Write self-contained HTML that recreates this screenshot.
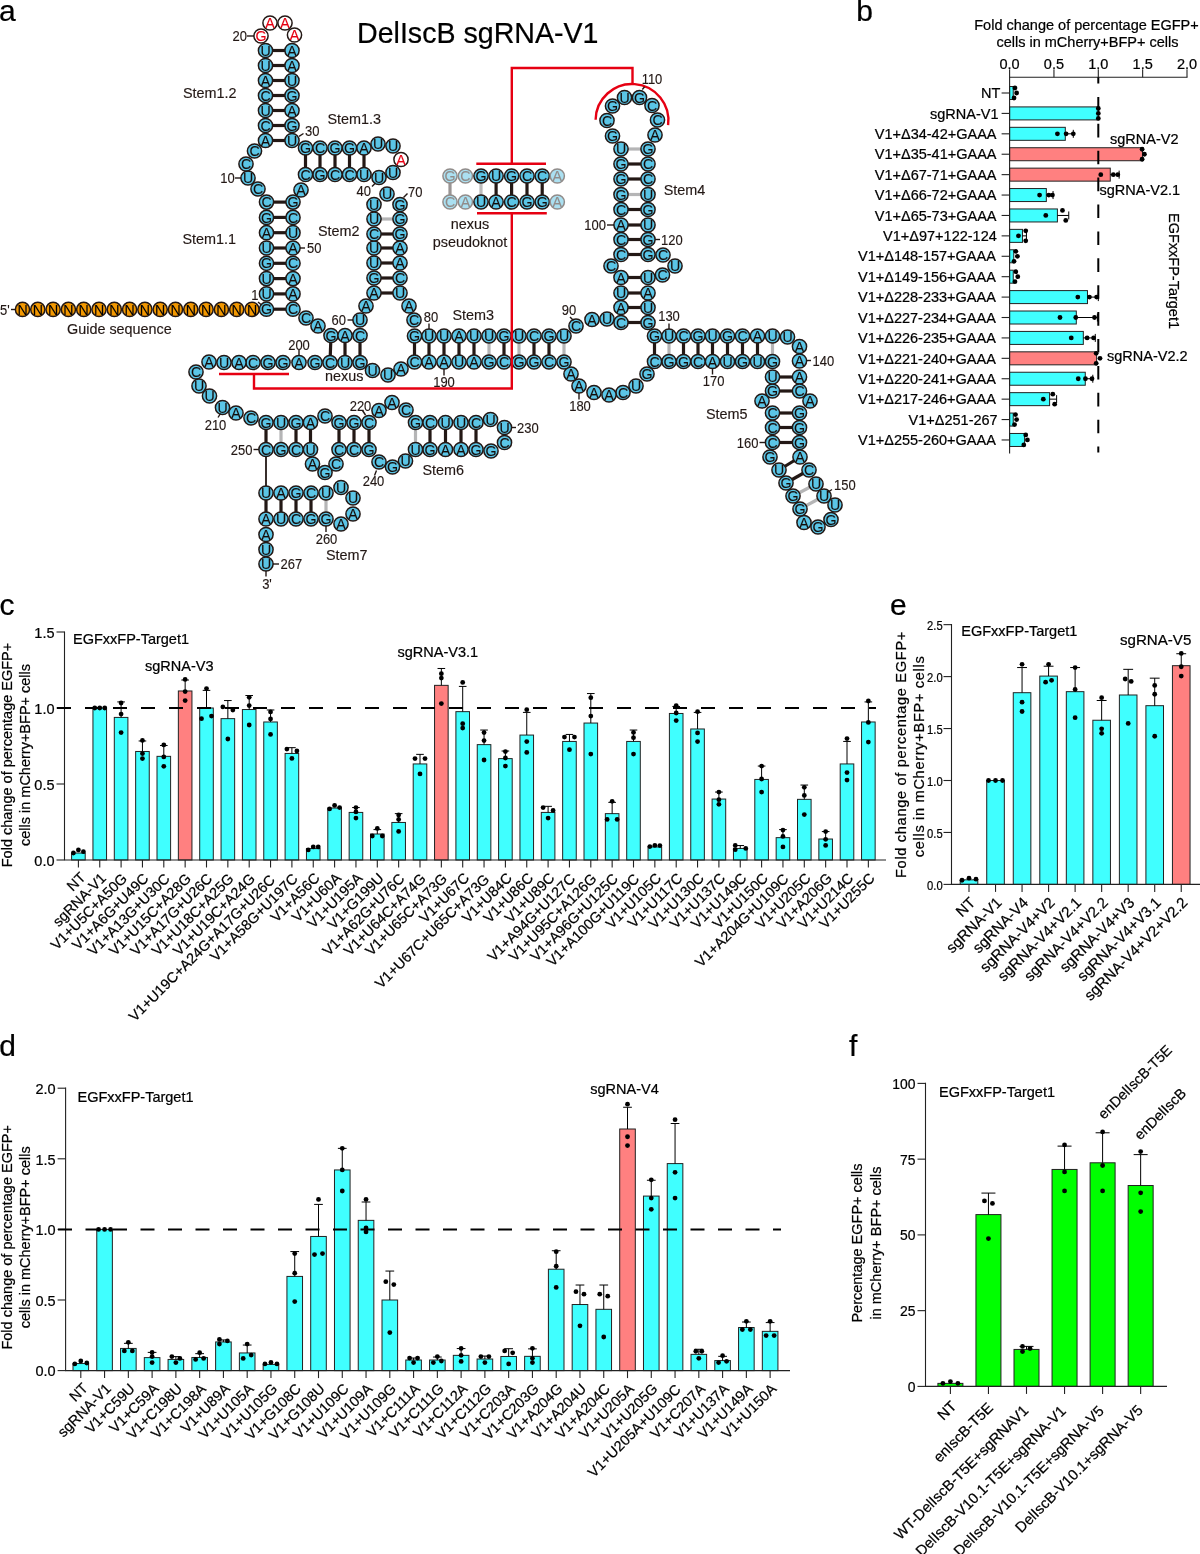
<!DOCTYPE html>
<html lang="en"><head><meta charset="utf-8"><title>DelIscB sgRNA engineering</title>
<style>html,body{margin:0;padding:0;background:#fff}svg{display:block}text{font-family:"Liberation Sans",Arial,Helvetica,sans-serif;stroke:#000;stroke-width:.22px}.nt text{stroke:#231815;stroke-width:.12px}.nt text.rd{stroke:#e60012}.nt text.fd{stroke:#918c8a}.lb text{stroke:#231815;stroke-width:.15px}</style>
</head><body>
<svg width="1200" height="1554" viewBox="0 0 1200 1554">
<rect width="1200" height="1554" fill="#fff"/>
<g id="panel-a">
<text x="-1" y="21" font-size="30" text-anchor="start" fill="#000">a</text>
<text x="357" y="43" font-size="28.6" text-anchor="start" fill="#000">DelIscB sgRNA-V1</text>
<line x1="266.5" y1="309.2" x2="293" y2="309.2" stroke="#231815" stroke-width="3.2"/>
<line x1="266.5" y1="293.9" x2="293" y2="293.9" stroke="#231815" stroke-width="3.2"/>
<line x1="266.5" y1="278.6" x2="293" y2="278.6" stroke="#231815" stroke-width="3.2"/>
<line x1="266.5" y1="263.3" x2="293" y2="263.3" stroke="#231815" stroke-width="3.2"/>
<line x1="266.5" y1="248" x2="293" y2="248" stroke="#231815" stroke-width="3.2"/>
<line x1="266.5" y1="232.7" x2="293" y2="232.7" stroke="#231815" stroke-width="3.2"/>
<line x1="266.5" y1="217.4" x2="293" y2="217.4" stroke="#231815" stroke-width="3.2"/>
<line x1="266.5" y1="202.1" x2="293" y2="202.1" stroke="#231815" stroke-width="3.2"/>
<line x1="265.5" y1="140.5" x2="292" y2="140.5" stroke="#231815" stroke-width="3.2"/>
<line x1="265.5" y1="125.5" x2="292" y2="125.5" stroke="#231815" stroke-width="3.2"/>
<line x1="265.5" y1="110.5" x2="292" y2="110.5" stroke="#231815" stroke-width="3.2"/>
<line x1="265.5" y1="95.5" x2="292" y2="95.5" stroke="#231815" stroke-width="3.2"/>
<line x1="265.5" y1="80.5" x2="292" y2="80.5" stroke="#231815" stroke-width="3.2"/>
<line x1="265.5" y1="65.5" x2="292" y2="65.5" stroke="#231815" stroke-width="3.2"/>
<line x1="265.5" y1="50.5" x2="292" y2="50.5" stroke="#231815" stroke-width="3.2"/>
<line x1="305.5" y1="148" x2="305.5" y2="174.5" stroke="#231815" stroke-width="3.2"/>
<line x1="320" y1="148" x2="320" y2="174.5" stroke="#231815" stroke-width="3.2"/>
<line x1="335" y1="148" x2="335" y2="174.5" stroke="#231815" stroke-width="3.2"/>
<line x1="349.5" y1="148" x2="349.5" y2="174.5" stroke="#231815" stroke-width="3.2"/>
<line x1="364" y1="148" x2="364" y2="174.5" stroke="#231815" stroke-width="3.2"/>
<line x1="374" y1="293" x2="400" y2="293" stroke="#231815" stroke-width="3.2"/>
<line x1="374" y1="278" x2="400" y2="278" stroke="#231815" stroke-width="3.2"/>
<line x1="374" y1="263" x2="400" y2="263" stroke="#231815" stroke-width="3.2"/>
<line x1="374" y1="248" x2="400" y2="248" stroke="#231815" stroke-width="3.2"/>
<line x1="374" y1="234" x2="400" y2="234" stroke="#231815" stroke-width="3.2"/>
<line x1="374" y1="219" x2="400" y2="219" stroke="#b5b5b6" stroke-width="3.2"/>
<line x1="331" y1="335.5" x2="330" y2="362.5" stroke="#231815" stroke-width="3.2"/>
<line x1="345" y1="335.5" x2="345" y2="362.5" stroke="#231815" stroke-width="3.2"/>
<line x1="360" y1="335.5" x2="360" y2="362.5" stroke="#231815" stroke-width="3.2"/>
<line x1="414.5" y1="336" x2="414.5" y2="362" stroke="#231815" stroke-width="3.2"/>
<line x1="429" y1="336" x2="429" y2="362" stroke="#231815" stroke-width="3.2"/>
<line x1="444" y1="336" x2="444" y2="362" stroke="#231815" stroke-width="3.2"/>
<line x1="459" y1="336" x2="459" y2="362" stroke="#231815" stroke-width="3.2"/>
<line x1="474" y1="336" x2="474" y2="362" stroke="#231815" stroke-width="3.2"/>
<line x1="489" y1="336" x2="489" y2="362" stroke="#b5b5b6" stroke-width="3.2"/>
<line x1="504" y1="336" x2="504" y2="362" stroke="#231815" stroke-width="3.2"/>
<line x1="519" y1="336" x2="519" y2="362" stroke="#b5b5b6" stroke-width="3.2"/>
<line x1="534" y1="336" x2="534" y2="362" stroke="#231815" stroke-width="3.2"/>
<line x1="549" y1="336" x2="549" y2="362" stroke="#231815" stroke-width="3.2"/>
<line x1="564" y1="336" x2="564" y2="362" stroke="#b5b5b6" stroke-width="3.2"/>
<line x1="621" y1="322.5" x2="648" y2="322.5" stroke="#231815" stroke-width="3.2"/>
<line x1="621" y1="307.5" x2="648" y2="307.5" stroke="#231815" stroke-width="3.2"/>
<line x1="621" y1="293" x2="648" y2="293" stroke="#231815" stroke-width="3.2"/>
<line x1="621" y1="277.5" x2="648" y2="277.5" stroke="#231815" stroke-width="3.2"/>
<line x1="621" y1="254.5" x2="648" y2="254.5" stroke="#231815" stroke-width="3.2"/>
<line x1="621" y1="239.5" x2="648" y2="239.5" stroke="#231815" stroke-width="3.2"/>
<line x1="621" y1="225" x2="648" y2="225" stroke="#231815" stroke-width="3.2"/>
<line x1="621" y1="209.5" x2="648" y2="209.5" stroke="#231815" stroke-width="3.2"/>
<line x1="621" y1="194.5" x2="648" y2="194.5" stroke="#b5b5b6" stroke-width="3.2"/>
<line x1="621" y1="179" x2="648" y2="179" stroke="#231815" stroke-width="3.2"/>
<line x1="621" y1="164" x2="648" y2="164" stroke="#231815" stroke-width="3.2"/>
<line x1="621" y1="149" x2="648" y2="149" stroke="#b5b5b6" stroke-width="3.2"/>
<line x1="654.5" y1="336" x2="654.5" y2="361.5" stroke="#231815" stroke-width="3.2"/>
<line x1="669" y1="336" x2="669" y2="361.5" stroke="#b5b5b6" stroke-width="3.2"/>
<line x1="683.5" y1="336" x2="683.5" y2="361.5" stroke="#231815" stroke-width="3.2"/>
<line x1="698" y1="336" x2="698" y2="361.5" stroke="#231815" stroke-width="3.2"/>
<line x1="712.5" y1="336" x2="712.5" y2="361.5" stroke="#231815" stroke-width="3.2"/>
<line x1="727.5" y1="336" x2="727.5" y2="361.5" stroke="#231815" stroke-width="3.2"/>
<line x1="742.5" y1="336" x2="742.5" y2="361.5" stroke="#231815" stroke-width="3.2"/>
<line x1="757.5" y1="336" x2="757.5" y2="361.5" stroke="#231815" stroke-width="3.2"/>
<line x1="772.5" y1="336" x2="772.5" y2="361.5" stroke="#b5b5b6" stroke-width="3.2"/>
<line x1="772.5" y1="377" x2="799.5" y2="377" stroke="#231815" stroke-width="3.2"/>
<line x1="772.5" y1="391" x2="799.5" y2="391" stroke="#231815" stroke-width="3.2"/>
<line x1="772.5" y1="413" x2="799.5" y2="413" stroke="#231815" stroke-width="3.2"/>
<line x1="772.5" y1="427.5" x2="799.5" y2="427.5" stroke="#231815" stroke-width="3.2"/>
<line x1="772.5" y1="442.5" x2="799.5" y2="442.5" stroke="#231815" stroke-width="3.2"/>
<line x1="779" y1="470" x2="800" y2="457" stroke="#231815" stroke-width="3.2"/>
<line x1="786" y1="483" x2="809" y2="470" stroke="#231815" stroke-width="3.2"/>
<line x1="793" y1="496" x2="816" y2="484" stroke="#b5b5b6" stroke-width="3.2"/>
<line x1="800" y1="509" x2="824" y2="496" stroke="#b5b5b6" stroke-width="3.2"/>
<line x1="266" y1="422.5" x2="266" y2="449.5" stroke="#231815" stroke-width="3.2"/>
<line x1="281" y1="422.5" x2="281" y2="449.5" stroke="#b5b5b6" stroke-width="3.2"/>
<line x1="296" y1="422.5" x2="296" y2="449.5" stroke="#231815" stroke-width="3.2"/>
<line x1="310.5" y1="422.5" x2="310.5" y2="449.5" stroke="#231815" stroke-width="3.2"/>
<line x1="339" y1="422.5" x2="339" y2="449.5" stroke="#231815" stroke-width="3.2"/>
<line x1="354" y1="422.5" x2="354" y2="449.5" stroke="#231815" stroke-width="3.2"/>
<line x1="369" y1="422.5" x2="369" y2="449.5" stroke="#231815" stroke-width="3.2"/>
<line x1="415.5" y1="422.5" x2="415.5" y2="449.5" stroke="#b5b5b6" stroke-width="3.2"/>
<line x1="430" y1="422.5" x2="430" y2="449.5" stroke="#231815" stroke-width="3.2"/>
<line x1="445.5" y1="422.5" x2="445.5" y2="449.5" stroke="#231815" stroke-width="3.2"/>
<line x1="461" y1="422.5" x2="461" y2="449.5" stroke="#231815" stroke-width="3.2"/>
<line x1="476" y1="422.5" x2="476" y2="449.5" stroke="#231815" stroke-width="3.2"/>
<line x1="266" y1="493" x2="266" y2="519" stroke="#231815" stroke-width="3.2"/>
<line x1="281" y1="493" x2="281" y2="519" stroke="#231815" stroke-width="3.2"/>
<line x1="296" y1="493" x2="296" y2="519" stroke="#231815" stroke-width="3.2"/>
<line x1="311" y1="493" x2="311" y2="519" stroke="#231815" stroke-width="3.2"/>
<line x1="326" y1="493" x2="326" y2="519" stroke="#b5b5b6" stroke-width="3.2"/>
<line x1="266" y1="449.5" x2="266" y2="493" stroke="#231815" stroke-width="1.8"/>
<g class="nt" font-size="14.2" text-anchor="middle" fill="#120c0a">
<circle cx="22.5" cy="309.4" r="7.1" fill="#f39800" stroke="#231815" stroke-width="1.5"/>
<text x="22.5" y="314.5" fill="#000">N</text>
<circle cx="37.8" cy="309.4" r="7.1" fill="#f39800" stroke="#231815" stroke-width="1.5"/>
<text x="37.8" y="314.5" fill="#000">N</text>
<circle cx="53.1" cy="309.4" r="7.1" fill="#f39800" stroke="#231815" stroke-width="1.5"/>
<text x="53.1" y="314.5" fill="#000">N</text>
<circle cx="68.4" cy="309.4" r="7.1" fill="#f39800" stroke="#231815" stroke-width="1.5"/>
<text x="68.4" y="314.5" fill="#000">N</text>
<circle cx="83.7" cy="309.4" r="7.1" fill="#f39800" stroke="#231815" stroke-width="1.5"/>
<text x="83.7" y="314.5" fill="#000">N</text>
<circle cx="99" cy="309.4" r="7.1" fill="#f39800" stroke="#231815" stroke-width="1.5"/>
<text x="99" y="314.5" fill="#000">N</text>
<circle cx="114.3" cy="309.4" r="7.1" fill="#f39800" stroke="#231815" stroke-width="1.5"/>
<text x="114.3" y="314.5" fill="#000">N</text>
<circle cx="129.6" cy="309.4" r="7.1" fill="#f39800" stroke="#231815" stroke-width="1.5"/>
<text x="129.6" y="314.5" fill="#000">N</text>
<circle cx="144.9" cy="309.4" r="7.1" fill="#f39800" stroke="#231815" stroke-width="1.5"/>
<text x="144.9" y="314.5" fill="#000">N</text>
<circle cx="160.2" cy="309.4" r="7.1" fill="#f39800" stroke="#231815" stroke-width="1.5"/>
<text x="160.2" y="314.5" fill="#000">N</text>
<circle cx="175.5" cy="309.4" r="7.1" fill="#f39800" stroke="#231815" stroke-width="1.5"/>
<text x="175.5" y="314.5" fill="#000">N</text>
<circle cx="190.8" cy="309.4" r="7.1" fill="#f39800" stroke="#231815" stroke-width="1.5"/>
<text x="190.8" y="314.5" fill="#000">N</text>
<circle cx="206.1" cy="309.4" r="7.1" fill="#f39800" stroke="#231815" stroke-width="1.5"/>
<text x="206.1" y="314.5" fill="#000">N</text>
<circle cx="221.4" cy="309.4" r="7.1" fill="#f39800" stroke="#231815" stroke-width="1.5"/>
<text x="221.4" y="314.5" fill="#000">N</text>
<circle cx="236.7" cy="309.4" r="7.1" fill="#f39800" stroke="#231815" stroke-width="1.5"/>
<text x="236.7" y="314.5" fill="#000">N</text>
<circle cx="252" cy="309.4" r="7.1" fill="#f39800" stroke="#231815" stroke-width="1.5"/>
<text x="252" y="314.5" fill="#000">N</text>
<circle cx="266.5" cy="309.2" r="7.1" fill="#5bc5e6" stroke="#231815" stroke-width="1.5"/>
<text x="266.5" y="314.3">G</text>
<circle cx="266.5" cy="293.9" r="7.1" fill="#5bc5e6" stroke="#231815" stroke-width="1.5"/>
<text x="266.5" y="299">U</text>
<circle cx="266.5" cy="278.6" r="7.1" fill="#5bc5e6" stroke="#231815" stroke-width="1.5"/>
<text x="266.5" y="283.7">U</text>
<circle cx="266.5" cy="263.3" r="7.1" fill="#5bc5e6" stroke="#231815" stroke-width="1.5"/>
<text x="266.5" y="268.4">G</text>
<circle cx="266.5" cy="248" r="7.1" fill="#5bc5e6" stroke="#231815" stroke-width="1.5"/>
<text x="266.5" y="253.1">U</text>
<circle cx="266.5" cy="232.7" r="7.1" fill="#5bc5e6" stroke="#231815" stroke-width="1.5"/>
<text x="266.5" y="237.8">A</text>
<circle cx="266.5" cy="217.4" r="7.1" fill="#5bc5e6" stroke="#231815" stroke-width="1.5"/>
<text x="266.5" y="222.5">G</text>
<circle cx="266.5" cy="202.1" r="7.1" fill="#5bc5e6" stroke="#231815" stroke-width="1.5"/>
<text x="266.5" y="207.2">C</text>
<circle cx="258" cy="189" r="7.1" fill="#5bc5e6" stroke="#231815" stroke-width="1.5"/>
<text x="258" y="194.1">C</text>
<circle cx="248" cy="178" r="7.1" fill="#5bc5e6" stroke="#231815" stroke-width="1.5"/>
<text x="248" y="183.1">U</text>
<circle cx="246" cy="164" r="7.1" fill="#5bc5e6" stroke="#231815" stroke-width="1.5"/>
<text x="246" y="169.1">C</text>
<circle cx="254.5" cy="151" r="7.1" fill="#5bc5e6" stroke="#231815" stroke-width="1.5"/>
<text x="254.5" y="156.1">C</text>
<circle cx="265.5" cy="140.5" r="7.1" fill="#5bc5e6" stroke="#231815" stroke-width="1.5"/>
<text x="265.5" y="145.6">A</text>
<circle cx="265.5" cy="125.5" r="7.1" fill="#5bc5e6" stroke="#231815" stroke-width="1.5"/>
<text x="265.5" y="130.6">C</text>
<circle cx="265.5" cy="110.5" r="7.1" fill="#5bc5e6" stroke="#231815" stroke-width="1.5"/>
<text x="265.5" y="115.6">U</text>
<circle cx="265.5" cy="95.5" r="7.1" fill="#5bc5e6" stroke="#231815" stroke-width="1.5"/>
<text x="265.5" y="100.6">C</text>
<circle cx="265.5" cy="80.5" r="7.1" fill="#5bc5e6" stroke="#231815" stroke-width="1.5"/>
<text x="265.5" y="85.6">A</text>
<circle cx="265.5" cy="65.5" r="7.1" fill="#5bc5e6" stroke="#231815" stroke-width="1.5"/>
<text x="265.5" y="70.6">U</text>
<circle cx="265.5" cy="50.5" r="7.1" fill="#5bc5e6" stroke="#231815" stroke-width="1.5"/>
<text x="265.5" y="55.6">U</text>
<circle cx="261" cy="36" r="7.1" fill="#fff" stroke="#231815" stroke-width="1.5"/>
<text x="261" y="41.1" class="rd" fill="#e60012">G</text>
<circle cx="270" cy="23" r="7.1" fill="#fff" stroke="#231815" stroke-width="1.5"/>
<text x="270" y="28.1" class="rd" fill="#e60012">A</text>
<circle cx="285" cy="23" r="7.1" fill="#fff" stroke="#231815" stroke-width="1.5"/>
<text x="285" y="28.1" class="rd" fill="#e60012">A</text>
<circle cx="294.5" cy="35" r="7.1" fill="#fff" stroke="#231815" stroke-width="1.5"/>
<text x="294.5" y="40.1" class="rd" fill="#e60012">A</text>
<circle cx="292" cy="50.5" r="7.1" fill="#5bc5e6" stroke="#231815" stroke-width="1.5"/>
<text x="292" y="55.6">A</text>
<circle cx="292" cy="65.5" r="7.1" fill="#5bc5e6" stroke="#231815" stroke-width="1.5"/>
<text x="292" y="70.6">A</text>
<circle cx="292" cy="80.5" r="7.1" fill="#5bc5e6" stroke="#231815" stroke-width="1.5"/>
<text x="292" y="85.6">U</text>
<circle cx="292" cy="95.5" r="7.1" fill="#5bc5e6" stroke="#231815" stroke-width="1.5"/>
<text x="292" y="100.6">G</text>
<circle cx="292" cy="110.5" r="7.1" fill="#5bc5e6" stroke="#231815" stroke-width="1.5"/>
<text x="292" y="115.6">A</text>
<circle cx="292" cy="125.5" r="7.1" fill="#5bc5e6" stroke="#231815" stroke-width="1.5"/>
<text x="292" y="130.6">G</text>
<circle cx="292" cy="140.5" r="7.1" fill="#5bc5e6" stroke="#231815" stroke-width="1.5"/>
<text x="292" y="145.6">U</text>
<circle cx="305.5" cy="148" r="7.1" fill="#5bc5e6" stroke="#231815" stroke-width="1.5"/>
<text x="305.5" y="153.1">G</text>
<circle cx="320" cy="148" r="7.1" fill="#5bc5e6" stroke="#231815" stroke-width="1.5"/>
<text x="320" y="153.1">C</text>
<circle cx="335" cy="148" r="7.1" fill="#5bc5e6" stroke="#231815" stroke-width="1.5"/>
<text x="335" y="153.1">G</text>
<circle cx="349.5" cy="148" r="7.1" fill="#5bc5e6" stroke="#231815" stroke-width="1.5"/>
<text x="349.5" y="153.1">G</text>
<circle cx="364" cy="148" r="7.1" fill="#5bc5e6" stroke="#231815" stroke-width="1.5"/>
<text x="364" y="153.1">A</text>
<circle cx="378" cy="144" r="7.1" fill="#5bc5e6" stroke="#231815" stroke-width="1.5"/>
<text x="378" y="149.1">U</text>
<circle cx="393" cy="146" r="7.1" fill="#5bc5e6" stroke="#231815" stroke-width="1.5"/>
<text x="393" y="151.1">U</text>
<circle cx="401" cy="159.5" r="7.1" fill="#fff" stroke="#231815" stroke-width="1.5"/>
<text x="401" y="164.6" class="rd" fill="#e60012">A</text>
<circle cx="393" cy="172.5" r="7.1" fill="#5bc5e6" stroke="#231815" stroke-width="1.5"/>
<text x="393" y="177.6">U</text>
<circle cx="379" cy="177.5" r="7.1" fill="#5bc5e6" stroke="#231815" stroke-width="1.5"/>
<text x="379" y="182.6">U</text>
<circle cx="364" cy="174.5" r="7.1" fill="#5bc5e6" stroke="#231815" stroke-width="1.5"/>
<text x="364" y="179.6">U</text>
<circle cx="349.5" cy="174.5" r="7.1" fill="#5bc5e6" stroke="#231815" stroke-width="1.5"/>
<text x="349.5" y="179.6">C</text>
<circle cx="335" cy="174.5" r="7.1" fill="#5bc5e6" stroke="#231815" stroke-width="1.5"/>
<text x="335" y="179.6">C</text>
<circle cx="320" cy="174.5" r="7.1" fill="#5bc5e6" stroke="#231815" stroke-width="1.5"/>
<text x="320" y="179.6">G</text>
<circle cx="305.5" cy="174.5" r="7.1" fill="#5bc5e6" stroke="#231815" stroke-width="1.5"/>
<text x="305.5" y="179.6">C</text>
<circle cx="301" cy="190" r="7.1" fill="#5bc5e6" stroke="#231815" stroke-width="1.5"/>
<text x="301" y="195.1">A</text>
<circle cx="293" cy="202.1" r="7.1" fill="#5bc5e6" stroke="#231815" stroke-width="1.5"/>
<text x="293" y="207.2">G</text>
<circle cx="293" cy="217.4" r="7.1" fill="#5bc5e6" stroke="#231815" stroke-width="1.5"/>
<text x="293" y="222.5">C</text>
<circle cx="293" cy="232.7" r="7.1" fill="#5bc5e6" stroke="#231815" stroke-width="1.5"/>
<text x="293" y="237.8">U</text>
<circle cx="293" cy="248" r="7.1" fill="#5bc5e6" stroke="#231815" stroke-width="1.5"/>
<text x="293" y="253.1">A</text>
<circle cx="293" cy="263.3" r="7.1" fill="#5bc5e6" stroke="#231815" stroke-width="1.5"/>
<text x="293" y="268.4">C</text>
<circle cx="293" cy="278.6" r="7.1" fill="#5bc5e6" stroke="#231815" stroke-width="1.5"/>
<text x="293" y="283.7">A</text>
<circle cx="293" cy="293.9" r="7.1" fill="#5bc5e6" stroke="#231815" stroke-width="1.5"/>
<text x="293" y="299">A</text>
<circle cx="293" cy="309.2" r="7.1" fill="#5bc5e6" stroke="#231815" stroke-width="1.5"/>
<text x="293" y="314.3">C</text>
<circle cx="306" cy="318" r="7.1" fill="#5bc5e6" stroke="#231815" stroke-width="1.5"/>
<text x="306" y="323.1">C</text>
<circle cx="318" cy="326" r="7.1" fill="#5bc5e6" stroke="#231815" stroke-width="1.5"/>
<text x="318" y="331.1">A</text>
<circle cx="331" cy="335.5" r="7.1" fill="#5bc5e6" stroke="#231815" stroke-width="1.5"/>
<text x="331" y="340.6">G</text>
<circle cx="345" cy="335.5" r="7.1" fill="#5bc5e6" stroke="#231815" stroke-width="1.5"/>
<text x="345" y="340.6">A</text>
<circle cx="360" cy="335.5" r="7.1" fill="#5bc5e6" stroke="#231815" stroke-width="1.5"/>
<text x="360" y="340.6">C</text>
<circle cx="360" cy="320" r="7.1" fill="#5bc5e6" stroke="#231815" stroke-width="1.5"/>
<text x="360" y="325.1">U</text>
<circle cx="366" cy="306" r="7.1" fill="#5bc5e6" stroke="#231815" stroke-width="1.5"/>
<text x="366" y="311.1">A</text>
<circle cx="374" cy="293" r="7.1" fill="#5bc5e6" stroke="#231815" stroke-width="1.5"/>
<text x="374" y="298.1">A</text>
<circle cx="374" cy="278" r="7.1" fill="#5bc5e6" stroke="#231815" stroke-width="1.5"/>
<text x="374" y="283.1">G</text>
<circle cx="374" cy="263" r="7.1" fill="#5bc5e6" stroke="#231815" stroke-width="1.5"/>
<text x="374" y="268.1">U</text>
<circle cx="374" cy="248" r="7.1" fill="#5bc5e6" stroke="#231815" stroke-width="1.5"/>
<text x="374" y="253.1">U</text>
<circle cx="374" cy="234" r="7.1" fill="#5bc5e6" stroke="#231815" stroke-width="1.5"/>
<text x="374" y="239.1">C</text>
<circle cx="374" cy="219" r="7.1" fill="#5bc5e6" stroke="#231815" stroke-width="1.5"/>
<text x="374" y="224.1">U</text>
<circle cx="374" cy="204.5" r="7.1" fill="#5bc5e6" stroke="#231815" stroke-width="1.5"/>
<text x="374" y="209.6">U</text>
<circle cx="387" cy="194" r="7.1" fill="#5bc5e6" stroke="#231815" stroke-width="1.5"/>
<text x="387" y="199.1">U</text>
<circle cx="400" cy="204.5" r="7.1" fill="#5bc5e6" stroke="#231815" stroke-width="1.5"/>
<text x="400" y="209.6">G</text>
<circle cx="400" cy="219" r="7.1" fill="#5bc5e6" stroke="#231815" stroke-width="1.5"/>
<text x="400" y="224.1">G</text>
<circle cx="400" cy="234" r="7.1" fill="#5bc5e6" stroke="#231815" stroke-width="1.5"/>
<text x="400" y="239.1">G</text>
<circle cx="400" cy="248" r="7.1" fill="#5bc5e6" stroke="#231815" stroke-width="1.5"/>
<text x="400" y="253.1">A</text>
<circle cx="400" cy="263" r="7.1" fill="#5bc5e6" stroke="#231815" stroke-width="1.5"/>
<text x="400" y="268.1">A</text>
<circle cx="400" cy="278" r="7.1" fill="#5bc5e6" stroke="#231815" stroke-width="1.5"/>
<text x="400" y="283.1">C</text>
<circle cx="400" cy="293" r="7.1" fill="#5bc5e6" stroke="#231815" stroke-width="1.5"/>
<text x="400" y="298.1">U</text>
<circle cx="409" cy="306" r="7.1" fill="#5bc5e6" stroke="#231815" stroke-width="1.5"/>
<text x="409" y="311.1">A</text>
<circle cx="414" cy="320" r="7.1" fill="#5bc5e6" stroke="#231815" stroke-width="1.5"/>
<text x="414" y="325.1">C</text>
<circle cx="414.5" cy="336" r="7.1" fill="#5bc5e6" stroke="#231815" stroke-width="1.5"/>
<text x="414.5" y="341.1">G</text>
<circle cx="429" cy="336" r="7.1" fill="#5bc5e6" stroke="#231815" stroke-width="1.5"/>
<text x="429" y="341.1">U</text>
<circle cx="444" cy="336" r="7.1" fill="#5bc5e6" stroke="#231815" stroke-width="1.5"/>
<text x="444" y="341.1">U</text>
<circle cx="459" cy="336" r="7.1" fill="#5bc5e6" stroke="#231815" stroke-width="1.5"/>
<text x="459" y="341.1">A</text>
<circle cx="474" cy="336" r="7.1" fill="#5bc5e6" stroke="#231815" stroke-width="1.5"/>
<text x="474" y="341.1">U</text>
<circle cx="489" cy="336" r="7.1" fill="#5bc5e6" stroke="#231815" stroke-width="1.5"/>
<text x="489" y="341.1">U</text>
<circle cx="504" cy="336" r="7.1" fill="#5bc5e6" stroke="#231815" stroke-width="1.5"/>
<text x="504" y="341.1">G</text>
<circle cx="519" cy="336" r="7.1" fill="#5bc5e6" stroke="#231815" stroke-width="1.5"/>
<text x="519" y="341.1">U</text>
<circle cx="534" cy="336" r="7.1" fill="#5bc5e6" stroke="#231815" stroke-width="1.5"/>
<text x="534" y="341.1">C</text>
<circle cx="549" cy="336" r="7.1" fill="#5bc5e6" stroke="#231815" stroke-width="1.5"/>
<text x="549" y="341.1">G</text>
<circle cx="564" cy="336" r="7.1" fill="#5bc5e6" stroke="#231815" stroke-width="1.5"/>
<text x="564" y="341.1">U</text>
<circle cx="576" cy="326" r="7.1" fill="#5bc5e6" stroke="#231815" stroke-width="1.5"/>
<text x="576" y="331.1">C</text>
<circle cx="592" cy="319.5" r="7.1" fill="#5bc5e6" stroke="#231815" stroke-width="1.5"/>
<text x="592" y="324.6">A</text>
<circle cx="607" cy="319" r="7.1" fill="#5bc5e6" stroke="#231815" stroke-width="1.5"/>
<text x="607" y="324.1">U</text>
<circle cx="621" cy="322.5" r="7.1" fill="#5bc5e6" stroke="#231815" stroke-width="1.5"/>
<text x="621" y="327.6">C</text>
<circle cx="621" cy="307.5" r="7.1" fill="#5bc5e6" stroke="#231815" stroke-width="1.5"/>
<text x="621" y="312.6">A</text>
<circle cx="621" cy="293" r="7.1" fill="#5bc5e6" stroke="#231815" stroke-width="1.5"/>
<text x="621" y="298.1">U</text>
<circle cx="621" cy="277.5" r="7.1" fill="#5bc5e6" stroke="#231815" stroke-width="1.5"/>
<text x="621" y="282.6">A</text>
<circle cx="611" cy="266" r="7.1" fill="#5bc5e6" stroke="#231815" stroke-width="1.5"/>
<text x="611" y="271.1">C</text>
<circle cx="621" cy="254.5" r="7.1" fill="#5bc5e6" stroke="#231815" stroke-width="1.5"/>
<text x="621" y="259.6">C</text>
<circle cx="621" cy="239.5" r="7.1" fill="#5bc5e6" stroke="#231815" stroke-width="1.5"/>
<text x="621" y="244.6">C</text>
<circle cx="621" cy="225" r="7.1" fill="#5bc5e6" stroke="#231815" stroke-width="1.5"/>
<text x="621" y="230.1">A</text>
<circle cx="621" cy="209.5" r="7.1" fill="#5bc5e6" stroke="#231815" stroke-width="1.5"/>
<text x="621" y="214.6">C</text>
<circle cx="621" cy="194.5" r="7.1" fill="#5bc5e6" stroke="#231815" stroke-width="1.5"/>
<text x="621" y="199.6">G</text>
<circle cx="621" cy="179" r="7.1" fill="#5bc5e6" stroke="#231815" stroke-width="1.5"/>
<text x="621" y="184.1">G</text>
<circle cx="621" cy="164" r="7.1" fill="#5bc5e6" stroke="#231815" stroke-width="1.5"/>
<text x="621" y="169.1">G</text>
<circle cx="621" cy="149" r="7.1" fill="#5bc5e6" stroke="#231815" stroke-width="1.5"/>
<text x="621" y="154.1">U</text>
<circle cx="612.5" cy="136" r="7.1" fill="#5bc5e6" stroke="#231815" stroke-width="1.5"/>
<text x="612.5" y="141.1">G</text>
<circle cx="607" cy="120.5" r="7.1" fill="#5bc5e6" stroke="#231815" stroke-width="1.5"/>
<text x="607" y="125.6">C</text>
<circle cx="612.5" cy="106" r="7.1" fill="#5bc5e6" stroke="#231815" stroke-width="1.5"/>
<text x="612.5" y="111.1">G</text>
<circle cx="624.5" cy="97.5" r="7.1" fill="#5bc5e6" stroke="#231815" stroke-width="1.5"/>
<text x="624.5" y="102.6">U</text>
<circle cx="639.5" cy="97.5" r="7.1" fill="#5bc5e6" stroke="#231815" stroke-width="1.5"/>
<text x="639.5" y="102.6">G</text>
<circle cx="652" cy="105.5" r="7.1" fill="#5bc5e6" stroke="#231815" stroke-width="1.5"/>
<text x="652" y="110.6">C</text>
<circle cx="657.5" cy="120" r="7.1" fill="#5bc5e6" stroke="#231815" stroke-width="1.5"/>
<text x="657.5" y="125.1">C</text>
<circle cx="655" cy="135" r="7.1" fill="#5bc5e6" stroke="#231815" stroke-width="1.5"/>
<text x="655" y="140.1">A</text>
<circle cx="648" cy="149" r="7.1" fill="#5bc5e6" stroke="#231815" stroke-width="1.5"/>
<text x="648" y="154.1">G</text>
<circle cx="648" cy="164" r="7.1" fill="#5bc5e6" stroke="#231815" stroke-width="1.5"/>
<text x="648" y="169.1">C</text>
<circle cx="648" cy="179" r="7.1" fill="#5bc5e6" stroke="#231815" stroke-width="1.5"/>
<text x="648" y="184.1">C</text>
<circle cx="648" cy="194.5" r="7.1" fill="#5bc5e6" stroke="#231815" stroke-width="1.5"/>
<text x="648" y="199.6">U</text>
<circle cx="648" cy="209.5" r="7.1" fill="#5bc5e6" stroke="#231815" stroke-width="1.5"/>
<text x="648" y="214.6">G</text>
<circle cx="648" cy="225" r="7.1" fill="#5bc5e6" stroke="#231815" stroke-width="1.5"/>
<text x="648" y="230.1">U</text>
<circle cx="648" cy="239.5" r="7.1" fill="#5bc5e6" stroke="#231815" stroke-width="1.5"/>
<text x="648" y="244.6">G</text>
<circle cx="648" cy="254.5" r="7.1" fill="#5bc5e6" stroke="#231815" stroke-width="1.5"/>
<text x="648" y="259.6">G</text>
<circle cx="663" cy="255" r="7.1" fill="#5bc5e6" stroke="#231815" stroke-width="1.5"/>
<text x="663" y="260.1">C</text>
<circle cx="675" cy="266" r="7.1" fill="#5bc5e6" stroke="#231815" stroke-width="1.5"/>
<text x="675" y="271.1">U</text>
<circle cx="662.5" cy="275" r="7.1" fill="#5bc5e6" stroke="#231815" stroke-width="1.5"/>
<text x="662.5" y="280.1">C</text>
<circle cx="648" cy="277.5" r="7.1" fill="#5bc5e6" stroke="#231815" stroke-width="1.5"/>
<text x="648" y="282.6">U</text>
<circle cx="648" cy="293" r="7.1" fill="#5bc5e6" stroke="#231815" stroke-width="1.5"/>
<text x="648" y="298.1">A</text>
<circle cx="648" cy="307.5" r="7.1" fill="#5bc5e6" stroke="#231815" stroke-width="1.5"/>
<text x="648" y="312.6">U</text>
<circle cx="648" cy="322.5" r="7.1" fill="#5bc5e6" stroke="#231815" stroke-width="1.5"/>
<text x="648" y="327.6">G</text>
<circle cx="654.5" cy="336" r="7.1" fill="#5bc5e6" stroke="#231815" stroke-width="1.5"/>
<text x="654.5" y="341.1">G</text>
<circle cx="669" cy="336" r="7.1" fill="#5bc5e6" stroke="#231815" stroke-width="1.5"/>
<text x="669" y="341.1">U</text>
<circle cx="683.5" cy="336" r="7.1" fill="#5bc5e6" stroke="#231815" stroke-width="1.5"/>
<text x="683.5" y="341.1">C</text>
<circle cx="698" cy="336" r="7.1" fill="#5bc5e6" stroke="#231815" stroke-width="1.5"/>
<text x="698" y="341.1">G</text>
<circle cx="712.5" cy="336" r="7.1" fill="#5bc5e6" stroke="#231815" stroke-width="1.5"/>
<text x="712.5" y="341.1">U</text>
<circle cx="727.5" cy="336" r="7.1" fill="#5bc5e6" stroke="#231815" stroke-width="1.5"/>
<text x="727.5" y="341.1">G</text>
<circle cx="742.5" cy="336" r="7.1" fill="#5bc5e6" stroke="#231815" stroke-width="1.5"/>
<text x="742.5" y="341.1">C</text>
<circle cx="757.5" cy="336" r="7.1" fill="#5bc5e6" stroke="#231815" stroke-width="1.5"/>
<text x="757.5" y="341.1">A</text>
<circle cx="772.5" cy="336" r="7.1" fill="#5bc5e6" stroke="#231815" stroke-width="1.5"/>
<text x="772.5" y="341.1">U</text>
<circle cx="787.5" cy="337" r="7.1" fill="#5bc5e6" stroke="#231815" stroke-width="1.5"/>
<text x="787.5" y="342.1">U</text>
<circle cx="799.5" cy="346.5" r="7.1" fill="#5bc5e6" stroke="#231815" stroke-width="1.5"/>
<text x="799.5" y="351.6">A</text>
<circle cx="799.5" cy="361" r="7.1" fill="#5bc5e6" stroke="#231815" stroke-width="1.5"/>
<text x="799.5" y="366.1">A</text>
<circle cx="799.5" cy="377" r="7.1" fill="#5bc5e6" stroke="#231815" stroke-width="1.5"/>
<text x="799.5" y="382.1">A</text>
<circle cx="799.5" cy="391" r="7.1" fill="#5bc5e6" stroke="#231815" stroke-width="1.5"/>
<text x="799.5" y="396.1">C</text>
<circle cx="810" cy="401" r="7.1" fill="#5bc5e6" stroke="#231815" stroke-width="1.5"/>
<text x="810" y="406.1">A</text>
<circle cx="799.5" cy="413" r="7.1" fill="#5bc5e6" stroke="#231815" stroke-width="1.5"/>
<text x="799.5" y="418.1">G</text>
<circle cx="799.5" cy="427.5" r="7.1" fill="#5bc5e6" stroke="#231815" stroke-width="1.5"/>
<text x="799.5" y="432.6">G</text>
<circle cx="799.5" cy="442.5" r="7.1" fill="#5bc5e6" stroke="#231815" stroke-width="1.5"/>
<text x="799.5" y="447.6">G</text>
<circle cx="800" cy="457" r="7.1" fill="#5bc5e6" stroke="#231815" stroke-width="1.5"/>
<text x="800" y="462.1">A</text>
<circle cx="809" cy="470" r="7.1" fill="#5bc5e6" stroke="#231815" stroke-width="1.5"/>
<text x="809" y="475.1">C</text>
<circle cx="816" cy="484" r="7.1" fill="#5bc5e6" stroke="#231815" stroke-width="1.5"/>
<text x="816" y="489.1">U</text>
<circle cx="824" cy="496" r="7.1" fill="#5bc5e6" stroke="#231815" stroke-width="1.5"/>
<text x="824" y="501.1">U</text>
<circle cx="835" cy="505" r="7.1" fill="#5bc5e6" stroke="#231815" stroke-width="1.5"/>
<text x="835" y="510.1">U</text>
<circle cx="831" cy="519.5" r="7.1" fill="#5bc5e6" stroke="#231815" stroke-width="1.5"/>
<text x="831" y="524.6">G</text>
<circle cx="818" cy="527" r="7.1" fill="#5bc5e6" stroke="#231815" stroke-width="1.5"/>
<text x="818" y="532.1">G</text>
<circle cx="804" cy="522.5" r="7.1" fill="#5bc5e6" stroke="#231815" stroke-width="1.5"/>
<text x="804" y="527.6">A</text>
<circle cx="800" cy="509" r="7.1" fill="#5bc5e6" stroke="#231815" stroke-width="1.5"/>
<text x="800" y="514.1">G</text>
<circle cx="793" cy="496" r="7.1" fill="#5bc5e6" stroke="#231815" stroke-width="1.5"/>
<text x="793" y="501.1">G</text>
<circle cx="786" cy="483" r="7.1" fill="#5bc5e6" stroke="#231815" stroke-width="1.5"/>
<text x="786" y="488.1">G</text>
<circle cx="779" cy="470" r="7.1" fill="#5bc5e6" stroke="#231815" stroke-width="1.5"/>
<text x="779" y="475.1">U</text>
<circle cx="770" cy="457" r="7.1" fill="#5bc5e6" stroke="#231815" stroke-width="1.5"/>
<text x="770" y="462.1">G</text>
<circle cx="772.5" cy="442.5" r="7.1" fill="#5bc5e6" stroke="#231815" stroke-width="1.5"/>
<text x="772.5" y="447.6">C</text>
<circle cx="772.5" cy="427.5" r="7.1" fill="#5bc5e6" stroke="#231815" stroke-width="1.5"/>
<text x="772.5" y="432.6">C</text>
<circle cx="772.5" cy="413" r="7.1" fill="#5bc5e6" stroke="#231815" stroke-width="1.5"/>
<text x="772.5" y="418.1">C</text>
<circle cx="762" cy="401" r="7.1" fill="#5bc5e6" stroke="#231815" stroke-width="1.5"/>
<text x="762" y="406.1">A</text>
<circle cx="772.5" cy="391" r="7.1" fill="#5bc5e6" stroke="#231815" stroke-width="1.5"/>
<text x="772.5" y="396.1">G</text>
<circle cx="772.5" cy="377" r="7.1" fill="#5bc5e6" stroke="#231815" stroke-width="1.5"/>
<text x="772.5" y="382.1">U</text>
<circle cx="772.5" cy="361.5" r="7.1" fill="#5bc5e6" stroke="#231815" stroke-width="1.5"/>
<text x="772.5" y="366.6">G</text>
<circle cx="757.5" cy="361.5" r="7.1" fill="#5bc5e6" stroke="#231815" stroke-width="1.5"/>
<text x="757.5" y="366.6">U</text>
<circle cx="742.5" cy="361.5" r="7.1" fill="#5bc5e6" stroke="#231815" stroke-width="1.5"/>
<text x="742.5" y="366.6">G</text>
<circle cx="727.5" cy="361.5" r="7.1" fill="#5bc5e6" stroke="#231815" stroke-width="1.5"/>
<text x="727.5" y="366.6">U</text>
<circle cx="712.5" cy="361.5" r="7.1" fill="#5bc5e6" stroke="#231815" stroke-width="1.5"/>
<text x="712.5" y="366.6">A</text>
<circle cx="698" cy="361.5" r="7.1" fill="#5bc5e6" stroke="#231815" stroke-width="1.5"/>
<text x="698" y="366.6">C</text>
<circle cx="683.5" cy="361.5" r="7.1" fill="#5bc5e6" stroke="#231815" stroke-width="1.5"/>
<text x="683.5" y="366.6">G</text>
<circle cx="669" cy="361.5" r="7.1" fill="#5bc5e6" stroke="#231815" stroke-width="1.5"/>
<text x="669" y="366.6">G</text>
<circle cx="654.5" cy="361.5" r="7.1" fill="#5bc5e6" stroke="#231815" stroke-width="1.5"/>
<text x="654.5" y="366.6">C</text>
<circle cx="647" cy="374" r="7.1" fill="#5bc5e6" stroke="#231815" stroke-width="1.5"/>
<text x="647" y="379.1">G</text>
<circle cx="636" cy="386" r="7.1" fill="#5bc5e6" stroke="#231815" stroke-width="1.5"/>
<text x="636" y="391.1">U</text>
<circle cx="623" cy="392.5" r="7.1" fill="#5bc5e6" stroke="#231815" stroke-width="1.5"/>
<text x="623" y="397.6">C</text>
<circle cx="609" cy="395" r="7.1" fill="#5bc5e6" stroke="#231815" stroke-width="1.5"/>
<text x="609" y="400.1">A</text>
<circle cx="594" cy="392.5" r="7.1" fill="#5bc5e6" stroke="#231815" stroke-width="1.5"/>
<text x="594" y="397.6">A</text>
<circle cx="579" cy="386" r="7.1" fill="#5bc5e6" stroke="#231815" stroke-width="1.5"/>
<text x="579" y="391.1">A</text>
<circle cx="571" cy="374" r="7.1" fill="#5bc5e6" stroke="#231815" stroke-width="1.5"/>
<text x="571" y="379.1">A</text>
<circle cx="564" cy="362" r="7.1" fill="#5bc5e6" stroke="#231815" stroke-width="1.5"/>
<text x="564" y="367.1">G</text>
<circle cx="549" cy="362" r="7.1" fill="#5bc5e6" stroke="#231815" stroke-width="1.5"/>
<text x="549" y="367.1">C</text>
<circle cx="534" cy="362" r="7.1" fill="#5bc5e6" stroke="#231815" stroke-width="1.5"/>
<text x="534" y="367.1">G</text>
<circle cx="519" cy="362" r="7.1" fill="#5bc5e6" stroke="#231815" stroke-width="1.5"/>
<text x="519" y="367.1">G</text>
<circle cx="504" cy="362" r="7.1" fill="#5bc5e6" stroke="#231815" stroke-width="1.5"/>
<text x="504" y="367.1">C</text>
<circle cx="489" cy="362" r="7.1" fill="#5bc5e6" stroke="#231815" stroke-width="1.5"/>
<text x="489" y="367.1">G</text>
<circle cx="474" cy="362" r="7.1" fill="#5bc5e6" stroke="#231815" stroke-width="1.5"/>
<text x="474" y="367.1">A</text>
<circle cx="459" cy="362" r="7.1" fill="#5bc5e6" stroke="#231815" stroke-width="1.5"/>
<text x="459" y="367.1">U</text>
<circle cx="444" cy="362" r="7.1" fill="#5bc5e6" stroke="#231815" stroke-width="1.5"/>
<text x="444" y="367.1">A</text>
<circle cx="429" cy="362" r="7.1" fill="#5bc5e6" stroke="#231815" stroke-width="1.5"/>
<text x="429" y="367.1">A</text>
<circle cx="414.5" cy="362" r="7.1" fill="#5bc5e6" stroke="#231815" stroke-width="1.5"/>
<text x="414.5" y="367.1">C</text>
<circle cx="401" cy="369" r="7.1" fill="#5bc5e6" stroke="#231815" stroke-width="1.5"/>
<text x="401" y="374.1">A</text>
<circle cx="388" cy="375" r="7.1" fill="#5bc5e6" stroke="#231815" stroke-width="1.5"/>
<text x="388" y="380.1">U</text>
<circle cx="372.5" cy="370.5" r="7.1" fill="#5bc5e6" stroke="#231815" stroke-width="1.5"/>
<text x="372.5" y="375.6">U</text>
<circle cx="360" cy="362.5" r="7.1" fill="#5bc5e6" stroke="#231815" stroke-width="1.5"/>
<text x="360" y="367.6">G</text>
<circle cx="345" cy="362.5" r="7.1" fill="#5bc5e6" stroke="#231815" stroke-width="1.5"/>
<text x="345" y="367.6">U</text>
<circle cx="330" cy="362.5" r="7.1" fill="#5bc5e6" stroke="#231815" stroke-width="1.5"/>
<text x="330" y="367.6">C</text>
<circle cx="315" cy="362.5" r="7.1" fill="#5bc5e6" stroke="#231815" stroke-width="1.5"/>
<text x="315" y="367.6">G</text>
<circle cx="299" cy="362.5" r="7.1" fill="#5bc5e6" stroke="#231815" stroke-width="1.5"/>
<text x="299" y="367.6">A</text>
<circle cx="283" cy="362.5" r="7.1" fill="#5bc5e6" stroke="#231815" stroke-width="1.5"/>
<text x="283" y="367.6">G</text>
<circle cx="268" cy="362.5" r="7.1" fill="#5bc5e6" stroke="#231815" stroke-width="1.5"/>
<text x="268" y="367.6">G</text>
<circle cx="253" cy="362.5" r="7.1" fill="#5bc5e6" stroke="#231815" stroke-width="1.5"/>
<text x="253" y="367.6">C</text>
<circle cx="239" cy="362.5" r="7.1" fill="#5bc5e6" stroke="#231815" stroke-width="1.5"/>
<text x="239" y="367.6">A</text>
<circle cx="224" cy="362.5" r="7.1" fill="#5bc5e6" stroke="#231815" stroke-width="1.5"/>
<text x="224" y="367.6">U</text>
<circle cx="209" cy="362" r="7.1" fill="#5bc5e6" stroke="#231815" stroke-width="1.5"/>
<text x="209" y="367.1">A</text>
<circle cx="196" cy="372" r="7.1" fill="#5bc5e6" stroke="#231815" stroke-width="1.5"/>
<text x="196" y="377.1">C</text>
<circle cx="199" cy="386" r="7.1" fill="#5bc5e6" stroke="#231815" stroke-width="1.5"/>
<text x="199" y="391.1">U</text>
<circle cx="209.5" cy="396" r="7.1" fill="#5bc5e6" stroke="#231815" stroke-width="1.5"/>
<text x="209.5" y="401.1">U</text>
<circle cx="222.5" cy="407.5" r="7.1" fill="#5bc5e6" stroke="#231815" stroke-width="1.5"/>
<text x="222.5" y="412.6">U</text>
<circle cx="236" cy="413" r="7.1" fill="#5bc5e6" stroke="#231815" stroke-width="1.5"/>
<text x="236" y="418.1">A</text>
<circle cx="251" cy="418" r="7.1" fill="#5bc5e6" stroke="#231815" stroke-width="1.5"/>
<text x="251" y="423.1">C</text>
<circle cx="266" cy="422.5" r="7.1" fill="#5bc5e6" stroke="#231815" stroke-width="1.5"/>
<text x="266" y="427.6">G</text>
<circle cx="281" cy="422.5" r="7.1" fill="#5bc5e6" stroke="#231815" stroke-width="1.5"/>
<text x="281" y="427.6">U</text>
<circle cx="296" cy="422.5" r="7.1" fill="#5bc5e6" stroke="#231815" stroke-width="1.5"/>
<text x="296" y="427.6">G</text>
<circle cx="310.5" cy="422.5" r="7.1" fill="#5bc5e6" stroke="#231815" stroke-width="1.5"/>
<text x="310.5" y="427.6">A</text>
<circle cx="325" cy="416" r="7.1" fill="#5bc5e6" stroke="#231815" stroke-width="1.5"/>
<text x="325" y="421.1">C</text>
<circle cx="339" cy="422.5" r="7.1" fill="#5bc5e6" stroke="#231815" stroke-width="1.5"/>
<text x="339" y="427.6">G</text>
<circle cx="354" cy="422.5" r="7.1" fill="#5bc5e6" stroke="#231815" stroke-width="1.5"/>
<text x="354" y="427.6">G</text>
<circle cx="369" cy="422.5" r="7.1" fill="#5bc5e6" stroke="#231815" stroke-width="1.5"/>
<text x="369" y="427.6">C</text>
<circle cx="379" cy="410.5" r="7.1" fill="#5bc5e6" stroke="#231815" stroke-width="1.5"/>
<text x="379" y="415.6">A</text>
<circle cx="392" cy="402.5" r="7.1" fill="#5bc5e6" stroke="#231815" stroke-width="1.5"/>
<text x="392" y="407.6">A</text>
<circle cx="406" cy="410" r="7.1" fill="#5bc5e6" stroke="#231815" stroke-width="1.5"/>
<text x="406" y="415.1">C</text>
<circle cx="415.5" cy="422.5" r="7.1" fill="#5bc5e6" stroke="#231815" stroke-width="1.5"/>
<text x="415.5" y="427.6">G</text>
<circle cx="430" cy="422.5" r="7.1" fill="#5bc5e6" stroke="#231815" stroke-width="1.5"/>
<text x="430" y="427.6">C</text>
<circle cx="445.5" cy="422.5" r="7.1" fill="#5bc5e6" stroke="#231815" stroke-width="1.5"/>
<text x="445.5" y="427.6">U</text>
<circle cx="461" cy="422.5" r="7.1" fill="#5bc5e6" stroke="#231815" stroke-width="1.5"/>
<text x="461" y="427.6">U</text>
<circle cx="476" cy="422.5" r="7.1" fill="#5bc5e6" stroke="#231815" stroke-width="1.5"/>
<text x="476" y="427.6">C</text>
<circle cx="490.5" cy="419.5" r="7.1" fill="#5bc5e6" stroke="#231815" stroke-width="1.5"/>
<text x="490.5" y="424.6">U</text>
<circle cx="504.5" cy="427.5" r="7.1" fill="#5bc5e6" stroke="#231815" stroke-width="1.5"/>
<text x="504.5" y="432.6">U</text>
<circle cx="504.5" cy="442.5" r="7.1" fill="#5bc5e6" stroke="#231815" stroke-width="1.5"/>
<text x="504.5" y="447.6">C</text>
<circle cx="491" cy="451" r="7.1" fill="#5bc5e6" stroke="#231815" stroke-width="1.5"/>
<text x="491" y="456.1">G</text>
<circle cx="476" cy="449.5" r="7.1" fill="#5bc5e6" stroke="#231815" stroke-width="1.5"/>
<text x="476" y="454.6">G</text>
<circle cx="461" cy="449.5" r="7.1" fill="#5bc5e6" stroke="#231815" stroke-width="1.5"/>
<text x="461" y="454.6">A</text>
<circle cx="445.5" cy="449.5" r="7.1" fill="#5bc5e6" stroke="#231815" stroke-width="1.5"/>
<text x="445.5" y="454.6">A</text>
<circle cx="430" cy="449.5" r="7.1" fill="#5bc5e6" stroke="#231815" stroke-width="1.5"/>
<text x="430" y="454.6">G</text>
<circle cx="415.5" cy="449.5" r="7.1" fill="#5bc5e6" stroke="#231815" stroke-width="1.5"/>
<text x="415.5" y="454.6">U</text>
<circle cx="405.5" cy="461" r="7.1" fill="#5bc5e6" stroke="#231815" stroke-width="1.5"/>
<text x="405.5" y="466.1">U</text>
<circle cx="392.5" cy="467" r="7.1" fill="#5bc5e6" stroke="#231815" stroke-width="1.5"/>
<text x="392.5" y="472.1">G</text>
<circle cx="379" cy="462" r="7.1" fill="#5bc5e6" stroke="#231815" stroke-width="1.5"/>
<text x="379" y="467.1">C</text>
<circle cx="369" cy="449.5" r="7.1" fill="#5bc5e6" stroke="#231815" stroke-width="1.5"/>
<text x="369" y="454.6">G</text>
<circle cx="354" cy="449.5" r="7.1" fill="#5bc5e6" stroke="#231815" stroke-width="1.5"/>
<text x="354" y="454.6">C</text>
<circle cx="339" cy="449.5" r="7.1" fill="#5bc5e6" stroke="#231815" stroke-width="1.5"/>
<text x="339" y="454.6">C</text>
<circle cx="336" cy="464" r="7.1" fill="#5bc5e6" stroke="#231815" stroke-width="1.5"/>
<text x="336" y="469.1">C</text>
<circle cx="325" cy="472.5" r="7.1" fill="#5bc5e6" stroke="#231815" stroke-width="1.5"/>
<text x="325" y="477.6">G</text>
<circle cx="312.5" cy="464" r="7.1" fill="#5bc5e6" stroke="#231815" stroke-width="1.5"/>
<text x="312.5" y="469.1">A</text>
<circle cx="310.5" cy="449.5" r="7.1" fill="#5bc5e6" stroke="#231815" stroke-width="1.5"/>
<text x="310.5" y="454.6">U</text>
<circle cx="296" cy="449.5" r="7.1" fill="#5bc5e6" stroke="#231815" stroke-width="1.5"/>
<text x="296" y="454.6">C</text>
<circle cx="281" cy="449.5" r="7.1" fill="#5bc5e6" stroke="#231815" stroke-width="1.5"/>
<text x="281" y="454.6">G</text>
<circle cx="266" cy="449.5" r="7.1" fill="#5bc5e6" stroke="#231815" stroke-width="1.5"/>
<text x="266" y="454.6">C</text>
<circle cx="266" cy="493" r="7.1" fill="#5bc5e6" stroke="#231815" stroke-width="1.5"/>
<text x="266" y="498.1">U</text>
<circle cx="281" cy="493" r="7.1" fill="#5bc5e6" stroke="#231815" stroke-width="1.5"/>
<text x="281" y="498.1">A</text>
<circle cx="296" cy="493" r="7.1" fill="#5bc5e6" stroke="#231815" stroke-width="1.5"/>
<text x="296" y="498.1">G</text>
<circle cx="311" cy="493" r="7.1" fill="#5bc5e6" stroke="#231815" stroke-width="1.5"/>
<text x="311" y="498.1">C</text>
<circle cx="326" cy="493" r="7.1" fill="#5bc5e6" stroke="#231815" stroke-width="1.5"/>
<text x="326" y="498.1">U</text>
<circle cx="341" cy="487.5" r="7.1" fill="#5bc5e6" stroke="#231815" stroke-width="1.5"/>
<text x="341" y="492.6">U</text>
<circle cx="353" cy="498" r="7.1" fill="#5bc5e6" stroke="#231815" stroke-width="1.5"/>
<text x="353" y="503.1">U</text>
<circle cx="353" cy="514" r="7.1" fill="#5bc5e6" stroke="#231815" stroke-width="1.5"/>
<text x="353" y="519.1">A</text>
<circle cx="341" cy="524" r="7.1" fill="#5bc5e6" stroke="#231815" stroke-width="1.5"/>
<text x="341" y="529.1">A</text>
<circle cx="326" cy="519" r="7.1" fill="#5bc5e6" stroke="#231815" stroke-width="1.5"/>
<text x="326" y="524.1">G</text>
<circle cx="311" cy="519" r="7.1" fill="#5bc5e6" stroke="#231815" stroke-width="1.5"/>
<text x="311" y="524.1">G</text>
<circle cx="296" cy="519" r="7.1" fill="#5bc5e6" stroke="#231815" stroke-width="1.5"/>
<text x="296" y="524.1">C</text>
<circle cx="281" cy="519" r="7.1" fill="#5bc5e6" stroke="#231815" stroke-width="1.5"/>
<text x="281" y="524.1">U</text>
<circle cx="266" cy="519" r="7.1" fill="#5bc5e6" stroke="#231815" stroke-width="1.5"/>
<text x="266" y="524.1">A</text>
<circle cx="266" cy="534.5" r="7.1" fill="#5bc5e6" stroke="#231815" stroke-width="1.5"/>
<text x="266" y="539.6">A</text>
<circle cx="266" cy="549.5" r="7.1" fill="#5bc5e6" stroke="#231815" stroke-width="1.5"/>
<text x="266" y="554.6">U</text>
<circle cx="266" cy="564" r="7.1" fill="#5bc5e6" stroke="#231815" stroke-width="1.5"/>
<text x="266" y="569.1">U</text>
</g>
<line x1="450" y1="176" x2="450" y2="202" stroke="#9a9594" stroke-width="3.2"/>
<line x1="481" y1="176" x2="481" y2="202" stroke="#bdbdbd" stroke-width="3.2"/>
<line x1="496.1" y1="176" x2="496.1" y2="202" stroke="#231815" stroke-width="3.2"/>
<line x1="511.6" y1="176" x2="511.6" y2="202" stroke="#231815" stroke-width="3.2"/>
<line x1="527" y1="176" x2="527" y2="202" stroke="#231815" stroke-width="3.2"/>
<line x1="542.2" y1="176" x2="542.2" y2="202" stroke="#231815" stroke-width="3.2"/>
<g class="nt" font-size="14.2" text-anchor="middle" fill="#120c0a">
<circle cx="450" cy="176" r="7.1" fill="#abe0f1" stroke="#918c8a" stroke-width="1.5"/><text x="450" y="181.1" class="fd" fill="#918c8a">G</text>
<circle cx="450" cy="202" r="7.1" fill="#abe0f1" stroke="#918c8a" stroke-width="1.5"/><text x="450" y="207.1" class="fd" fill="#918c8a">C</text>
<circle cx="465.4" cy="176" r="7.1" fill="#abe0f1" stroke="#918c8a" stroke-width="1.5"/><text x="465.4" y="181.1" class="fd" fill="#918c8a">C</text>
<circle cx="465.4" cy="202" r="7.1" fill="#abe0f1" stroke="#918c8a" stroke-width="1.5"/><text x="465.4" y="207.1" class="fd" fill="#918c8a">A</text>
<circle cx="481" cy="176" r="7.1" fill="#5bc5e6" stroke="#231815" stroke-width="1.5"/><text x="481" y="181.1">G</text>
<circle cx="481" cy="202" r="7.1" fill="#5bc5e6" stroke="#231815" stroke-width="1.5"/><text x="481" y="207.1">U</text>
<circle cx="496.1" cy="176" r="7.1" fill="#5bc5e6" stroke="#231815" stroke-width="1.5"/><text x="496.1" y="181.1">U</text>
<circle cx="496.1" cy="202" r="7.1" fill="#5bc5e6" stroke="#231815" stroke-width="1.5"/><text x="496.1" y="207.1">A</text>
<circle cx="511.6" cy="176" r="7.1" fill="#5bc5e6" stroke="#231815" stroke-width="1.5"/><text x="511.6" y="181.1">G</text>
<circle cx="511.6" cy="202" r="7.1" fill="#5bc5e6" stroke="#231815" stroke-width="1.5"/><text x="511.6" y="207.1">C</text>
<circle cx="527" cy="176" r="7.1" fill="#5bc5e6" stroke="#231815" stroke-width="1.5"/><text x="527" y="181.1">C</text>
<circle cx="527" cy="202" r="7.1" fill="#5bc5e6" stroke="#231815" stroke-width="1.5"/><text x="527" y="207.1">G</text>
<circle cx="542.2" cy="176" r="7.1" fill="#5bc5e6" stroke="#231815" stroke-width="1.5"/><text x="542.2" y="181.1">C</text>
<circle cx="542.2" cy="202" r="7.1" fill="#5bc5e6" stroke="#231815" stroke-width="1.5"/><text x="542.2" y="207.1">G</text>
<circle cx="557.3" cy="176" r="7.1" fill="#abe0f1" stroke="#918c8a" stroke-width="1.5"/><text x="557.3" y="181.1" class="fd" fill="#918c8a">A</text>
<circle cx="557.3" cy="202" r="7.1" fill="#abe0f1" stroke="#918c8a" stroke-width="1.5"/><text x="557.3" y="207.1" class="fd" fill="#918c8a">A</text>
</g>
<g stroke="#e60012" stroke-width="2.4" fill="none">
<path d="M476.3 163.8H546"/>
<path d="M511.8 163.8V68H632.5V84.5"/>
<path d="M477 213.2H546.8"/>
<path d="M511.8 213.2V388.5H254V374"/>
<path d="M219 374H289"/>
<path d="M595.61 119.76A36.4 36.4 0 1 1 668.09 125.15"/>
</g>
<g class="lb" font-size="14.4" fill="#231815">
<text x="183" y="98">Stem1.2</text>
<text x="327.5" y="124">Stem1.3</text>
<text x="182.5" y="243.5">Stem1.1</text>
<text x="318" y="236">Stem2</text>
<text x="452.5" y="320">Stem3</text>
<text x="663.7" y="194.5">Stem4</text>
<text x="706" y="419">Stem5</text>
<text x="422.5" y="475">Stem6</text>
<text x="326" y="559.5">Stem7</text>
<text x="325" y="381">nexus</text>
<text x="67" y="334">Guide sequence</text>
<text x="470" y="228.7" text-anchor="middle">nexus</text>
<text x="470" y="246.5" text-anchor="middle">pseudoknot</text>
</g>
<g class="lb" font-size="14.6" fill="#231815" stroke-width="1.4">
<text transform="translate(0 314.7) scale(0.89 1)" text-anchor="start">5'</text>
<line x1="11" y1="309.5" x2="15.5" y2="309.5" stroke="#231815"/>
<text transform="translate(258.5 300) scale(0.89 1)" text-anchor="end">1</text>
<line x1="258" y1="302" x2="261.5" y2="305" stroke="#231815"/>
<text transform="translate(234.8 183.2) scale(0.89 1)" text-anchor="end">10</text>
<line x1="235" y1="178" x2="241" y2="178" stroke="#231815"/>
<text transform="translate(247 41.2) scale(0.89 1)" text-anchor="end">20</text>
<line x1="247" y1="36" x2="254" y2="36" stroke="#231815"/>
<text transform="translate(305 136.2) scale(0.89 1)" text-anchor="start">30</text>
<line x1="299" y1="136.3" x2="303.5" y2="133.5" stroke="#231815"/>
<text transform="translate(371 196.2) scale(0.89 1)" text-anchor="end">40</text>
<line x1="372" y1="186.5" x2="375.5" y2="183" stroke="#231815"/>
<text transform="translate(307 253.2) scale(0.89 1)" text-anchor="start">50</text>
<line x1="300" y1="248" x2="305" y2="248" stroke="#231815"/>
<text transform="translate(346 325.2) scale(0.89 1)" text-anchor="end">60</text>
<line x1="347.5" y1="320" x2="353" y2="320" stroke="#231815"/>
<text transform="translate(408 197.2) scale(0.89 1)" text-anchor="start">70</text>
<line x1="403.5" y1="197.5" x2="407.5" y2="193.5" stroke="#231815"/>
<text transform="translate(431 322.2) scale(0.89 1)" text-anchor="middle">80</text>
<line x1="429" y1="323.5" x2="429" y2="329" stroke="#231815"/>
<text transform="translate(569 315.2) scale(0.89 1)" text-anchor="middle">90</text>
<line x1="570" y1="317" x2="573.5" y2="320.5" stroke="#231815"/>
<text transform="translate(606 230.2) scale(0.89 1)" text-anchor="end">100</text>
<line x1="607" y1="225" x2="614" y2="225" stroke="#231815"/>
<text transform="translate(652 84.2) scale(0.89 1)" text-anchor="middle">110</text>
<line x1="642.3" y1="89.5" x2="644.6" y2="86.8" stroke="#231815"/>
<text transform="translate(661 244.7) scale(0.89 1)" text-anchor="start">120</text>
<line x1="655" y1="239.5" x2="660" y2="239.5" stroke="#231815"/>
<text transform="translate(669 321.2) scale(0.89 1)" text-anchor="middle">130</text>
<line x1="669" y1="323.5" x2="669" y2="329" stroke="#231815"/>
<text transform="translate(812.5 365.7) scale(0.89 1)" text-anchor="start">140</text>
<line x1="806.5" y1="360.5" x2="811" y2="360.5" stroke="#231815"/>
<text transform="translate(834 489.7) scale(0.89 1)" text-anchor="start">150</text>
<line x1="827.5" y1="492.5" x2="832" y2="489.5" stroke="#231815"/>
<text transform="translate(758.5 447.7) scale(0.89 1)" text-anchor="end">160</text>
<line x1="759.5" y1="442.5" x2="765.5" y2="442.5" stroke="#231815"/>
<text transform="translate(713.7 386.2) scale(0.89 1)" text-anchor="middle">170</text>
<line x1="712.5" y1="368.5" x2="712.5" y2="374.5" stroke="#231815"/>
<text transform="translate(580 411.2) scale(0.89 1)" text-anchor="middle">180</text>
<line x1="579" y1="393" x2="579" y2="399.5" stroke="#231815"/>
<text transform="translate(444 387) scale(0.89 1)" text-anchor="middle">190</text>
<line x1="444" y1="369" x2="444" y2="375.5" stroke="#231815"/>
<text transform="translate(299 349.7) scale(0.89 1)" text-anchor="middle">200</text>
<line x1="299" y1="350" x2="299" y2="355.5" stroke="#231815"/>
<text transform="translate(215.5 429.7) scale(0.89 1)" text-anchor="middle">210</text>
<line x1="220.5" y1="413.5" x2="218" y2="417.5" stroke="#231815"/>
<text transform="translate(360.5 410.7) scale(0.89 1)" text-anchor="middle">220</text>
<line x1="362.5" y1="410.5" x2="365.5" y2="415" stroke="#231815"/>
<text transform="translate(517 432.7) scale(0.89 1)" text-anchor="start">230</text>
<line x1="511.5" y1="427.5" x2="516" y2="427.5" stroke="#231815"/>
<text transform="translate(373.5 485.7) scale(0.89 1)" text-anchor="middle">240</text>
<line x1="376.5" y1="470.5" x2="374.5" y2="475.5" stroke="#231815"/>
<text transform="translate(252.5 454.7) scale(0.89 1)" text-anchor="end">250</text>
<line x1="253.5" y1="449.5" x2="259" y2="449.5" stroke="#231815"/>
<text transform="translate(326.5 543.9) scale(0.89 1)" text-anchor="middle">260</text>
<line x1="326" y1="526" x2="326" y2="532" stroke="#231815"/>
<text transform="translate(280.5 569.2) scale(0.89 1)" text-anchor="start">267</text>
<line x1="273" y1="564" x2="279" y2="564" stroke="#231815"/>
<text transform="translate(267 588.9) scale(0.89 1)" text-anchor="middle">3'</text>
<line x1="266" y1="571" x2="266" y2="576.5" stroke="#231815"/>
</g>
</g>
<g id="panel-b">
<text x="856.3" y="20.8" font-size="30" text-anchor="start" fill="#000">b</text>
<text x="1086.5" y="29.5" font-size="14.5" text-anchor="middle" fill="#000">Fold change of percentage EGFP+</text>
<text x="1087.5" y="47" font-size="14.5" text-anchor="middle" fill="#000">cells in mCherry+BFP+ cells</text>
<rect x="1009.6" y="86.5" width="3.64" height="13" fill="#40ffff" stroke="#222" stroke-width="1"/>
<rect x="1009.6" y="106.91" width="88.7" height="13" fill="#40ffff" stroke="#222" stroke-width="1"/>
<rect x="1009.6" y="127.32" width="55.7" height="13" fill="#40ffff" stroke="#222" stroke-width="1"/>
<rect x="1009.6" y="147.73" width="132.87" height="13" fill="#ff8080" stroke="#222" stroke-width="1"/>
<rect x="1009.6" y="168.14" width="100.67" height="13" fill="#ff8080" stroke="#222" stroke-width="1"/>
<rect x="1009.6" y="188.55" width="36.72" height="13" fill="#40ffff" stroke="#222" stroke-width="1"/>
<rect x="1009.6" y="208.96" width="47.81" height="13" fill="#40ffff" stroke="#222" stroke-width="1"/>
<rect x="1009.6" y="229.37" width="12.86" height="13" fill="#40ffff" stroke="#222" stroke-width="1"/>
<rect x="1009.6" y="249.78" width="4.17" height="13" fill="#40ffff" stroke="#222" stroke-width="1"/>
<rect x="1009.6" y="270.19" width="3.64" height="13" fill="#40ffff" stroke="#222" stroke-width="1"/>
<rect x="1009.6" y="290.6" width="77.88" height="13" fill="#40ffff" stroke="#222" stroke-width="1"/>
<rect x="1009.6" y="311.01" width="66.7" height="13" fill="#40ffff" stroke="#222" stroke-width="1"/>
<rect x="1009.6" y="331.42" width="73.71" height="13" fill="#40ffff" stroke="#222" stroke-width="1"/>
<rect x="1009.6" y="351.83" width="87.01" height="13" fill="#ff8080" stroke="#222" stroke-width="1"/>
<rect x="1009.6" y="372.24" width="75.66" height="13" fill="#40ffff" stroke="#222" stroke-width="1"/>
<rect x="1009.6" y="392.65" width="40" height="13" fill="#40ffff" stroke="#222" stroke-width="1"/>
<rect x="1009.6" y="413.06" width="3.64" height="13" fill="#40ffff" stroke="#222" stroke-width="1"/>
<rect x="1009.6" y="433.47" width="14.99" height="13" fill="#40ffff" stroke="#222" stroke-width="1"/>
<g stroke="#000" stroke-width="1" fill="none">
<path d="M1065.3 133.82H1073.29M1073.29 129.82V137.82"/>
<path d="M1110.27 174.64H1119.14M1119.14 170.64V178.64"/>
<path d="M1046.32 195.05H1053.06M1053.06 191.05V199.05"/>
<path d="M1057.41 215.46H1068.76M1068.76 211.46V219.46"/>
<path d="M1022.46 235.87H1026.45M1026.45 231.87V239.87"/>
<path d="M1087.48 297.1H1098.3M1098.3 293.1V301.1"/>
<path d="M1076.3 317.51H1097.41M1097.41 313.51V321.51"/>
<path d="M1083.31 337.92H1095.28M1095.28 333.92V341.92"/>
<path d="M1085.26 378.74H1092.8M1092.8 374.74V382.74"/>
<path d="M1049.6 399.15H1056.61M1056.61 395.15V403.15"/>
</g>
<path d="M1187.5 77.2H1009.6V453.5" stroke="#222" stroke-width="1.1" fill="none"/>
<line x1="1009.6" y1="69.2" x2="1009.6" y2="77.2" stroke="#222" stroke-width="1.1"/>
<text x="1009.6" y="68.5" font-size="14.5" text-anchor="middle" fill="#000">0.0</text>
<line x1="1053.95" y1="69.2" x2="1053.95" y2="77.2" stroke="#222" stroke-width="1.1"/>
<text x="1053.95" y="68.5" font-size="14.5" text-anchor="middle" fill="#000">0.5</text>
<line x1="1098.3" y1="69.2" x2="1098.3" y2="77.2" stroke="#222" stroke-width="1.1"/>
<text x="1098.3" y="68.5" font-size="14.5" text-anchor="middle" fill="#000">1.0</text>
<line x1="1142.65" y1="69.2" x2="1142.65" y2="77.2" stroke="#222" stroke-width="1.1"/>
<text x="1142.65" y="68.5" font-size="14.5" text-anchor="middle" fill="#000">1.5</text>
<line x1="1187" y1="69.2" x2="1187" y2="77.2" stroke="#222" stroke-width="1.1"/>
<text x="1187" y="68.5" font-size="14.5" text-anchor="middle" fill="#000">2.0</text>
<g font-size="14.5" text-anchor="end" fill="#000">
<line x1="1001.6" y1="93" x2="1009.6" y2="93" stroke="#222" stroke-width="1.1"/>
<text x="1000.28" y="98.2">NT</text>
<line x1="1001.6" y1="113.41" x2="1009.6" y2="113.41" stroke="#222" stroke-width="1.1"/>
<text x="998.47" y="118.61">sgRNA-V1</text>
<line x1="1001.6" y1="133.82" x2="1009.6" y2="133.82" stroke="#222" stroke-width="1.1"/>
<text x="996.5" y="139.02">V1+Δ34-42+GAAA</text>
<line x1="1001.6" y1="154.23" x2="1009.6" y2="154.23" stroke="#222" stroke-width="1.1"/>
<text x="996.5" y="159.43">V1+Δ35-41+GAAA</text>
<line x1="1001.6" y1="174.64" x2="1009.6" y2="174.64" stroke="#222" stroke-width="1.1"/>
<text x="996.5" y="179.84">V1+Δ67-71+GAAA</text>
<line x1="1001.6" y1="195.05" x2="1009.6" y2="195.05" stroke="#222" stroke-width="1.1"/>
<text x="996.5" y="200.25">V1+Δ66-72+GAAA</text>
<line x1="1001.6" y1="215.46" x2="1009.6" y2="215.46" stroke="#222" stroke-width="1.1"/>
<text x="996.5" y="220.66">V1+Δ65-73+GAAA</text>
<line x1="1001.6" y1="235.87" x2="1009.6" y2="235.87" stroke="#222" stroke-width="1.1"/>
<text x="996.79" y="241.07">V1+Δ97+122-124</text>
<line x1="1001.6" y1="256.28" x2="1009.6" y2="256.28" stroke="#222" stroke-width="1.1"/>
<text x="995.9" y="261.48">V1+Δ148-157+GAAA</text>
<line x1="1001.6" y1="276.69" x2="1009.6" y2="276.69" stroke="#222" stroke-width="1.1"/>
<text x="995.9" y="281.89">V1+Δ149-156+GAAA</text>
<line x1="1001.6" y1="297.1" x2="1009.6" y2="297.1" stroke="#222" stroke-width="1.1"/>
<text x="995.9" y="302.3">V1+Δ228-233+GAAA</text>
<line x1="1001.6" y1="317.51" x2="1009.6" y2="317.51" stroke="#222" stroke-width="1.1"/>
<text x="995.9" y="322.71">V1+Δ227-234+GAAA</text>
<line x1="1001.6" y1="337.92" x2="1009.6" y2="337.92" stroke="#222" stroke-width="1.1"/>
<text x="995.9" y="343.12">V1+Δ226-235+GAAA</text>
<line x1="1001.6" y1="358.33" x2="1009.6" y2="358.33" stroke="#222" stroke-width="1.1"/>
<text x="995.9" y="363.53">V1+Δ221-240+GAAA</text>
<line x1="1001.6" y1="378.74" x2="1009.6" y2="378.74" stroke="#222" stroke-width="1.1"/>
<text x="995.9" y="383.94">V1+Δ220-241+GAAA</text>
<line x1="1001.6" y1="399.15" x2="1009.6" y2="399.15" stroke="#222" stroke-width="1.1"/>
<text x="995.9" y="404.35">V1+Δ217-246+GAAA</text>
<line x1="1001.6" y1="419.56" x2="1009.6" y2="419.56" stroke="#222" stroke-width="1.1"/>
<text x="997.7" y="424.76">V1+Δ251-267</text>
<line x1="1001.6" y1="439.97" x2="1009.6" y2="439.97" stroke="#222" stroke-width="1.1"/>
<text x="995.9" y="445.17">V1+Δ255-260+GAAA</text>
</g>
<line x1="1098.3" y1="77.2" x2="1098.3" y2="452.5" stroke="#000" stroke-width="2" stroke-dasharray="13.6 13.3" stroke-dashoffset="7.2"/>
<g fill="#000"><circle cx="1014.92" cy="88" r="2.4"/><circle cx="1016.61" cy="93" r="2.4"/><circle cx="1014.03" cy="98" r="2.4"/><circle cx="1098.3" cy="108.41" r="2.4"/><circle cx="1098.3" cy="113.41" r="2.4"/><circle cx="1098.3" cy="118.41" r="2.4"/><circle cx="1057.41" cy="133.82" r="2.4"/><circle cx="1066.1" cy="133.82" r="2.4"/><circle cx="1073.29" cy="133.82" r="2.4"/><circle cx="1142.12" cy="149.23" r="2.4"/><circle cx="1144.42" cy="154.23" r="2.4"/><circle cx="1142.12" cy="159.23" r="2.4"/><circle cx="1100.78" cy="174.64" r="2.4"/><circle cx="1113.29" cy="174.64" r="2.4"/><circle cx="1117.81" cy="174.64" r="2.4"/><circle cx="1039.58" cy="195.05" r="2.4"/><circle cx="1048.81" cy="195.05" r="2.4"/><circle cx="1052.44" cy="195.05" r="2.4"/><circle cx="1062.47" cy="210.46" r="2.4"/><circle cx="1045.79" cy="215.46" r="2.4"/><circle cx="1065.75" cy="220.46" r="2.4"/><circle cx="1025.74" cy="230.87" r="2.4"/><circle cx="1018.47" cy="235.87" r="2.4"/><circle cx="1025.74" cy="240.87" r="2.4"/><circle cx="1015.81" cy="251.28" r="2.4"/><circle cx="1017.41" cy="256.28" r="2.4"/><circle cx="1014.03" cy="261.28" r="2.4"/><circle cx="1015.81" cy="271.69" r="2.4"/><circle cx="1017.76" cy="276.69" r="2.4"/><circle cx="1014.92" cy="281.69" r="2.4"/><circle cx="1077.81" cy="297.1" r="2.4"/><circle cx="1089.43" cy="297.1" r="2.4"/><circle cx="1096.61" cy="297.1" r="2.4"/><circle cx="1059.98" cy="317.51" r="2.4"/><circle cx="1075.77" cy="317.51" r="2.4"/><circle cx="1094.49" cy="317.51" r="2.4"/><circle cx="1071.25" cy="337.92" r="2.4"/><circle cx="1087.12" cy="337.92" r="2.4"/><circle cx="1093.6" cy="337.92" r="2.4"/><circle cx="1096.17" cy="353.33" r="2.4"/><circle cx="1099.99" cy="358.33" r="2.4"/><circle cx="1096.17" cy="363.33" r="2.4"/><circle cx="1078.25" cy="378.74" r="2.4"/><circle cx="1085.44" cy="378.74" r="2.4"/><circle cx="1092" cy="378.74" r="2.4"/><circle cx="1052.8" cy="394.15" r="2.4"/><circle cx="1043.31" cy="399.15" r="2.4"/><circle cx="1054.66" cy="404.15" r="2.4"/><circle cx="1015.45" cy="414.56" r="2.4"/><circle cx="1016.61" cy="419.56" r="2.4"/><circle cx="1014.57" cy="424.56" r="2.4"/><circle cx="1025.74" cy="434.97" r="2.4"/><circle cx="1027.43" cy="439.97" r="2.4"/><circle cx="1023.79" cy="444.97" r="2.4"/></g>
<text x="1110" y="143.5" font-size="14.5" text-anchor="start" fill="#000">sgRNA-V2</text>
<text x="1099.5" y="194.5" font-size="14.5" text-anchor="start" fill="#000">sgRNA-V2.1</text>
<text x="1107" y="361" font-size="14.5" text-anchor="start" fill="#000">sgRNA-V2.2</text>
<text transform="translate(1168.5 271) rotate(90)" font-size="14.5" text-anchor="middle" fill="#000">EGFxxFP-Target1</text>
</g>
<g id="panel-c">
<text x="-0.6" y="615.4" font-size="30" text-anchor="start" fill="#000">c</text>
<g id="chart-c">
<rect x="71.6" y="853.01" width="13.6" height="6.99" fill="#40ffff" stroke="#222" stroke-width="1"/>
<rect x="92.95" y="708" width="13.6" height="152" fill="#40ffff" stroke="#222" stroke-width="1"/>
<rect x="114.3" y="717.42" width="13.6" height="142.58" fill="#40ffff" stroke="#222" stroke-width="1"/>
<rect x="135.65" y="751.47" width="13.6" height="108.53" fill="#40ffff" stroke="#222" stroke-width="1"/>
<rect x="157" y="756.34" width="13.6" height="103.66" fill="#40ffff" stroke="#222" stroke-width="1"/>
<rect x="178.35" y="690.98" width="13.6" height="169.02" fill="#ff8080" stroke="#222" stroke-width="1"/>
<rect x="199.7" y="708" width="13.6" height="152" fill="#40ffff" stroke="#222" stroke-width="1"/>
<rect x="221.05" y="718.64" width="13.6" height="141.36" fill="#40ffff" stroke="#222" stroke-width="1"/>
<rect x="242.4" y="709.52" width="13.6" height="150.48" fill="#40ffff" stroke="#222" stroke-width="1"/>
<rect x="263.75" y="721.98" width="13.6" height="138.02" fill="#40ffff" stroke="#222" stroke-width="1"/>
<rect x="285.1" y="753.45" width="13.6" height="106.55" fill="#40ffff" stroke="#222" stroke-width="1"/>
<rect x="306.45" y="848.6" width="13.6" height="11.4" fill="#40ffff" stroke="#222" stroke-width="1"/>
<rect x="327.8" y="808.02" width="13.6" height="51.98" fill="#40ffff" stroke="#222" stroke-width="1"/>
<rect x="349.15" y="812.42" width="13.6" height="47.58" fill="#40ffff" stroke="#222" stroke-width="1"/>
<rect x="370.5" y="834.01" width="13.6" height="25.99" fill="#40ffff" stroke="#222" stroke-width="1"/>
<rect x="391.85" y="822.46" width="13.6" height="37.54" fill="#40ffff" stroke="#222" stroke-width="1"/>
<rect x="413.2" y="763.94" width="13.6" height="96.06" fill="#40ffff" stroke="#222" stroke-width="1"/>
<rect x="434.55" y="685.35" width="13.6" height="174.65" fill="#ff8080" stroke="#222" stroke-width="1"/>
<rect x="455.9" y="711.65" width="13.6" height="148.35" fill="#40ffff" stroke="#222" stroke-width="1"/>
<rect x="477.25" y="744.63" width="13.6" height="115.37" fill="#40ffff" stroke="#222" stroke-width="1"/>
<rect x="498.6" y="758.62" width="13.6" height="101.38" fill="#40ffff" stroke="#222" stroke-width="1"/>
<rect x="519.95" y="735.06" width="13.6" height="124.94" fill="#40ffff" stroke="#222" stroke-width="1"/>
<rect x="541.3" y="812.42" width="13.6" height="47.58" fill="#40ffff" stroke="#222" stroke-width="1"/>
<rect x="562.65" y="741.44" width="13.6" height="118.56" fill="#40ffff" stroke="#222" stroke-width="1"/>
<rect x="584" y="723.05" width="13.6" height="136.95" fill="#40ffff" stroke="#222" stroke-width="1"/>
<rect x="605.35" y="813.64" width="13.6" height="46.36" fill="#40ffff" stroke="#222" stroke-width="1"/>
<rect x="626.7" y="741.44" width="13.6" height="118.56" fill="#40ffff" stroke="#222" stroke-width="1"/>
<rect x="648.05" y="846.93" width="13.6" height="13.07" fill="#40ffff" stroke="#222" stroke-width="1"/>
<rect x="669.4" y="713.47" width="13.6" height="146.53" fill="#40ffff" stroke="#222" stroke-width="1"/>
<rect x="690.75" y="728.98" width="13.6" height="131.02" fill="#40ffff" stroke="#222" stroke-width="1"/>
<rect x="712.1" y="799.05" width="13.6" height="60.95" fill="#40ffff" stroke="#222" stroke-width="1"/>
<rect x="733.45" y="848.45" width="13.6" height="11.55" fill="#40ffff" stroke="#222" stroke-width="1"/>
<rect x="754.8" y="779.44" width="13.6" height="80.56" fill="#40ffff" stroke="#222" stroke-width="1"/>
<rect x="776.15" y="837.66" width="13.6" height="22.34" fill="#40ffff" stroke="#222" stroke-width="1"/>
<rect x="797.5" y="799.35" width="13.6" height="60.65" fill="#40ffff" stroke="#222" stroke-width="1"/>
<rect x="818.85" y="839.02" width="13.6" height="20.98" fill="#40ffff" stroke="#222" stroke-width="1"/>
<rect x="840.2" y="763.94" width="13.6" height="96.06" fill="#40ffff" stroke="#222" stroke-width="1"/>
<rect x="861.55" y="721.98" width="13.6" height="138.02" fill="#40ffff" stroke="#222" stroke-width="1"/>
<g stroke="#000" stroke-width="1">
<path d="M121.1 717.42V701.92M117.29 701.92H124.91" fill="none"/>
<path d="M142.45 751.47V740.98M138.64 740.98H146.26" fill="none"/>
<path d="M163.8 756.34V745.54M159.99 745.54H167.61" fill="none"/>
<path d="M185.15 690.98V680.03M181.34 680.03H188.96" fill="none"/>
<path d="M206.5 708V690.37M202.69 690.37H210.31" fill="none"/>
<path d="M227.85 718.64V700.55M224.04 700.55H231.66" fill="none"/>
<path d="M249.2 709.52V695.54M245.39 695.54H253.01" fill="none"/>
<path d="M270.55 721.98V709.98M266.74 709.98H274.36" fill="none"/>
<path d="M291.9 753.45V747.67M288.09 747.67H295.71" fill="none"/>
<path d="M355.95 812.42V807.56M352.14 807.56H359.76" fill="none"/>
<path d="M377.3 834.01V829.6M373.49 829.6H381.11" fill="none"/>
<path d="M398.65 822.46V813.64M394.84 813.64H402.46" fill="none"/>
<path d="M420 763.94V754.36M416.19 754.36H423.81" fill="none"/>
<path d="M441.35 685.35V668.48M437.54 668.48H445.16" fill="none"/>
<path d="M462.7 711.65V686.42M458.89 686.42H466.51" fill="none"/>
<path d="M484.05 744.63V730.04M480.24 730.04H487.86" fill="none"/>
<path d="M505.4 758.62V751.02M501.59 751.02H509.21" fill="none"/>
<path d="M526.75 735.06V712.41M522.94 712.41H530.56" fill="none"/>
<path d="M548.1 812.42V806.34M544.29 806.34H551.91" fill="none"/>
<path d="M569.45 741.44V734.45M565.64 734.45H573.26" fill="none"/>
<path d="M590.8 723.05V693.56M586.99 693.56H594.61" fill="none"/>
<path d="M612.15 813.64V802.39M608.34 802.39H615.96" fill="none"/>
<path d="M633.5 741.44V730.04M629.69 730.04H637.31" fill="none"/>
<path d="M676.2 713.47V706.48M672.39 706.48H680.01" fill="none"/>
<path d="M697.55 728.98V712.41M693.74 712.41H701.36" fill="none"/>
<path d="M718.9 799.05V792.06M715.09 792.06H722.71" fill="none"/>
<path d="M740.25 848.45V845.56M736.44 845.56H744.06" fill="none"/>
<path d="M761.6 779.44V766.06M757.79 766.06H765.41" fill="none"/>
<path d="M782.95 837.66V829.6M779.14 829.6H786.76" fill="none"/>
<path d="M804.3 799.35V785.06M800.49 785.06H808.11" fill="none"/>
<path d="M825.65 839.02V831.58M821.84 831.58H829.46" fill="none"/>
<path d="M847 763.94V741.44M843.19 741.44H850.81" fill="none"/>
<path d="M868.35 721.98V701.92M864.54 701.92H872.16" fill="none"/>
</g>
<path d="M64.5 631.4V860H886" stroke="#222" stroke-width="1.1" fill="none"/>
<g font-size="14.5" text-anchor="end" fill="#000">
<line x1="56.5" y1="860" x2="64.5" y2="860" stroke="#222" stroke-width="1.1"/>
<text x="54.5" y="865.72">0.0</text>
<line x1="56.5" y1="784" x2="64.5" y2="784" stroke="#222" stroke-width="1.1"/>
<text x="54.5" y="789.72">0.5</text>
<line x1="56.5" y1="708" x2="64.5" y2="708" stroke="#222" stroke-width="1.1"/>
<text x="54.5" y="713.72">1.0</text>
<line x1="56.5" y1="632" x2="64.5" y2="632" stroke="#222" stroke-width="1.1"/>
<text x="54.5" y="637.72">1.5</text>
</g>
<g font-size="14.5" text-anchor="end" fill="#000">
<line x1="78.4" y1="860" x2="78.4" y2="867.5" stroke="#222" stroke-width="1.1"/>
<text transform="translate(79.03 870.87) rotate(-45)" x="0" y="0" dy="0.72em">NT</text>
<line x1="99.75" y1="860" x2="99.75" y2="867.5" stroke="#222" stroke-width="1.1"/>
<text transform="translate(99.68 871.57) rotate(-45)" x="0" y="0" dy="0.72em">sgRNA-V1</text>
<line x1="121.1" y1="860" x2="121.1" y2="867.5" stroke="#222" stroke-width="1.1"/>
<text transform="translate(120.58 872.02) rotate(-45)" x="0" y="0" dy="0.72em">V1+U5C+A50G</text>
<line x1="142.45" y1="860" x2="142.45" y2="867.5" stroke="#222" stroke-width="1.1"/>
<text transform="translate(141.93 872.02) rotate(-45)" x="0" y="0" dy="0.72em">V1+A6G+U49C</text>
<line x1="163.8" y1="860" x2="163.8" y2="867.5" stroke="#222" stroke-width="1.1"/>
<text transform="translate(163.16 872.14) rotate(-45)" x="0" y="0" dy="0.72em">V1+A13G+U30C</text>
<line x1="185.15" y1="860" x2="185.15" y2="867.5" stroke="#222" stroke-width="1.1"/>
<text transform="translate(184.51 872.14) rotate(-45)" x="0" y="0" dy="0.72em">V1+U15C+A28G</text>
<line x1="206.5" y1="860" x2="206.5" y2="867.5" stroke="#222" stroke-width="1.1"/>
<text transform="translate(205.86 872.14) rotate(-45)" x="0" y="0" dy="0.72em">V1+A17G+U26C</text>
<line x1="227.85" y1="860" x2="227.85" y2="867.5" stroke="#222" stroke-width="1.1"/>
<text transform="translate(227.21 872.14) rotate(-45)" x="0" y="0" dy="0.72em">V1+U18C+A25G</text>
<line x1="249.2" y1="860" x2="249.2" y2="867.5" stroke="#222" stroke-width="1.1"/>
<text transform="translate(248.56 872.14) rotate(-45)" x="0" y="0" dy="0.72em">V1+U19C+A24G</text>
<line x1="270.55" y1="860" x2="270.55" y2="867.5" stroke="#222" stroke-width="1.1"/>
<text transform="translate(268.62 873.43) rotate(-45)" x="0" y="0" dy="0.72em">V1+U19C+A24G+A17G+U26C</text>
<line x1="291.9" y1="860" x2="291.9" y2="867.5" stroke="#222" stroke-width="1.1"/>
<text transform="translate(291.15 872.25) rotate(-45)" x="0" y="0" dy="0.72em">V1+A58G+U197C</text>
<line x1="313.25" y1="860" x2="313.25" y2="867.5" stroke="#222" stroke-width="1.1"/>
<text transform="translate(313.27 871.48) rotate(-45)" x="0" y="0" dy="0.72em">V1+A56C</text>
<line x1="334.6" y1="860" x2="334.6" y2="867.5" stroke="#222" stroke-width="1.1"/>
<text transform="translate(334.62 871.48) rotate(-45)" x="0" y="0" dy="0.72em">V1+U60A</text>
<line x1="355.95" y1="860" x2="355.95" y2="867.5" stroke="#222" stroke-width="1.1"/>
<text transform="translate(355.85 871.6) rotate(-45)" x="0" y="0" dy="0.72em">V1+U195A</text>
<line x1="377.3" y1="860" x2="377.3" y2="867.5" stroke="#222" stroke-width="1.1"/>
<text transform="translate(377.18 871.62) rotate(-45)" x="0" y="0" dy="0.72em">V1+G199U</text>
<line x1="398.65" y1="860" x2="398.65" y2="867.5" stroke="#222" stroke-width="1.1"/>
<text transform="translate(398.01 872.14) rotate(-45)" x="0" y="0" dy="0.72em">V1+A62G+U76C</text>
<line x1="420" y1="860" x2="420" y2="867.5" stroke="#222" stroke-width="1.1"/>
<text transform="translate(419.36 872.14) rotate(-45)" x="0" y="0" dy="0.72em">V1+U64C+A74G</text>
<line x1="441.35" y1="860" x2="441.35" y2="867.5" stroke="#222" stroke-width="1.1"/>
<text transform="translate(440.71 872.14) rotate(-45)" x="0" y="0" dy="0.72em">V1+U65C+A73G</text>
<line x1="462.7" y1="860" x2="462.7" y2="867.5" stroke="#222" stroke-width="1.1"/>
<text transform="translate(462.71 871.49) rotate(-45)" x="0" y="0" dy="0.72em">V1+U67C</text>
<line x1="484.05" y1="860" x2="484.05" y2="867.5" stroke="#222" stroke-width="1.1"/>
<text transform="translate(482.77 872.78) rotate(-45)" x="0" y="0" dy="0.72em">V1+U67C+U65C+A73G</text>
<line x1="505.4" y1="860" x2="505.4" y2="867.5" stroke="#222" stroke-width="1.1"/>
<text transform="translate(505.41 871.49) rotate(-45)" x="0" y="0" dy="0.72em">V1+U84C</text>
<line x1="526.75" y1="860" x2="526.75" y2="867.5" stroke="#222" stroke-width="1.1"/>
<text transform="translate(526.76 871.49) rotate(-45)" x="0" y="0" dy="0.72em">V1+U86C</text>
<line x1="548.1" y1="860" x2="548.1" y2="867.5" stroke="#222" stroke-width="1.1"/>
<text transform="translate(548.11 871.49) rotate(-45)" x="0" y="0" dy="0.72em">V1+U89C</text>
<line x1="569.45" y1="860" x2="569.45" y2="867.5" stroke="#222" stroke-width="1.1"/>
<text transform="translate(568.7 872.25) rotate(-45)" x="0" y="0" dy="0.72em">V1+A94G+U127C</text>
<line x1="590.8" y1="860" x2="590.8" y2="867.5" stroke="#222" stroke-width="1.1"/>
<text transform="translate(590.05 872.25) rotate(-45)" x="0" y="0" dy="0.72em">V1+U95C+A126G</text>
<line x1="612.15" y1="860" x2="612.15" y2="867.5" stroke="#222" stroke-width="1.1"/>
<text transform="translate(611.4 872.25) rotate(-45)" x="0" y="0" dy="0.72em">V1+A96G+U125C</text>
<line x1="633.5" y1="860" x2="633.5" y2="867.5" stroke="#222" stroke-width="1.1"/>
<text transform="translate(632.65 872.35) rotate(-45)" x="0" y="0" dy="0.72em">V1+A100G+U119C</text>
<line x1="654.85" y1="860" x2="654.85" y2="867.5" stroke="#222" stroke-width="1.1"/>
<text transform="translate(654.74 871.61) rotate(-45)" x="0" y="0" dy="0.72em">V1+U105C</text>
<line x1="676.2" y1="860" x2="676.2" y2="867.5" stroke="#222" stroke-width="1.1"/>
<text transform="translate(676.11 871.59) rotate(-45)" x="0" y="0" dy="0.72em">V1+U117C</text>
<line x1="697.55" y1="860" x2="697.55" y2="867.5" stroke="#222" stroke-width="1.1"/>
<text transform="translate(697.44 871.61) rotate(-45)" x="0" y="0" dy="0.72em">V1+U130C</text>
<line x1="718.9" y1="860" x2="718.9" y2="867.5" stroke="#222" stroke-width="1.1"/>
<text transform="translate(718.79 871.61) rotate(-45)" x="0" y="0" dy="0.72em">V1+U137C</text>
<line x1="740.25" y1="860" x2="740.25" y2="867.5" stroke="#222" stroke-width="1.1"/>
<text transform="translate(740.14 871.61) rotate(-45)" x="0" y="0" dy="0.72em">V1+U149C</text>
<line x1="761.6" y1="860" x2="761.6" y2="867.5" stroke="#222" stroke-width="1.1"/>
<text transform="translate(761.49 871.61) rotate(-45)" x="0" y="0" dy="0.72em">V1+U150C</text>
<line x1="782.95" y1="860" x2="782.95" y2="867.5" stroke="#222" stroke-width="1.1"/>
<text transform="translate(782.08 872.37) rotate(-45)" x="0" y="0" dy="0.72em">V1+A204G+U109C</text>
<line x1="804.3" y1="860" x2="804.3" y2="867.5" stroke="#222" stroke-width="1.1"/>
<text transform="translate(804.19 871.61) rotate(-45)" x="0" y="0" dy="0.72em">V1+U205C</text>
<line x1="825.65" y1="860" x2="825.65" y2="867.5" stroke="#222" stroke-width="1.1"/>
<text transform="translate(825.54 871.61) rotate(-45)" x="0" y="0" dy="0.72em">V1+A206G</text>
<line x1="847" y1="860" x2="847" y2="867.5" stroke="#222" stroke-width="1.1"/>
<text transform="translate(846.89 871.61) rotate(-45)" x="0" y="0" dy="0.72em">V1+U214C</text>
<line x1="868.35" y1="860" x2="868.35" y2="867.5" stroke="#222" stroke-width="1.1"/>
<text transform="translate(868.24 871.61) rotate(-45)" x="0" y="0" dy="0.72em">V1+U255C</text>
</g>
<line x1="57" y1="708" x2="876" y2="708" stroke="#000" stroke-width="2" stroke-dasharray="14 14"/>
<g fill="#000"><circle cx="73.4" cy="853.01" r="2.4"/><circle cx="78.4" cy="849.97" r="2.4"/><circle cx="83.4" cy="851.64" r="2.4"/><circle cx="94.75" cy="708" r="2.4"/><circle cx="99.75" cy="708" r="2.4"/><circle cx="104.75" cy="708" r="2.4"/><circle cx="121.1" cy="702.98" r="2.4"/><circle cx="121.1" cy="714.08" r="2.4"/><circle cx="121.1" cy="732.62" r="2.4"/><circle cx="142.45" cy="740.38" r="2.4"/><circle cx="142.45" cy="753.6" r="2.4"/><circle cx="142.45" cy="758.62" r="2.4"/><circle cx="163.8" cy="744.94" r="2.4"/><circle cx="163.8" cy="756.94" r="2.4"/><circle cx="163.8" cy="766.37" r="2.4"/><circle cx="185.15" cy="679.42" r="2.4"/><circle cx="185.15" cy="691.58" r="2.4"/><circle cx="185.15" cy="700.55" r="2.4"/><circle cx="206.5" cy="688.54" r="2.4"/><circle cx="201.5" cy="718.64" r="2.4"/><circle cx="211.5" cy="716.06" r="2.4"/><circle cx="222.85" cy="706.94" r="2.4"/><circle cx="232.85" cy="709.98" r="2.4"/><circle cx="227.85" cy="739.01" r="2.4"/><circle cx="249.2" cy="697.36" r="2.4"/><circle cx="249.2" cy="705.57" r="2.4"/><circle cx="249.2" cy="725.02" r="2.4"/><circle cx="270.55" cy="711.95" r="2.4"/><circle cx="270.55" cy="718.94" r="2.4"/><circle cx="270.55" cy="734.45" r="2.4"/><circle cx="286.9" cy="749.04" r="2.4"/><circle cx="296.9" cy="751.02" r="2.4"/><circle cx="291.9" cy="758.46" r="2.4"/><circle cx="308.25" cy="849.97" r="2.4"/><circle cx="313.25" cy="846.93" r="2.4"/><circle cx="318.25" cy="846.93" r="2.4"/><circle cx="329.6" cy="808.93" r="2.4"/><circle cx="334.6" cy="805.43" r="2.4"/><circle cx="339.6" cy="807.56" r="2.4"/><circle cx="355.95" cy="807.56" r="2.4"/><circle cx="355.95" cy="811.97" r="2.4"/><circle cx="355.95" cy="818.05" r="2.4"/><circle cx="377.3" cy="828.38" r="2.4"/><circle cx="372.3" cy="835.98" r="2.4"/><circle cx="382.3" cy="835.98" r="2.4"/><circle cx="398.65" cy="815.01" r="2.4"/><circle cx="398.65" cy="819.42" r="2.4"/><circle cx="398.65" cy="831.42" r="2.4"/><circle cx="415" cy="758.62" r="2.4"/><circle cx="425" cy="758.62" r="2.4"/><circle cx="420" cy="773.97" r="2.4"/><circle cx="441.35" cy="673.65" r="2.4"/><circle cx="441.35" cy="678.06" r="2.4"/><circle cx="441.35" cy="703.59" r="2.4"/><circle cx="462.7" cy="682.46" r="2.4"/><circle cx="462.7" cy="723.66" r="2.4"/><circle cx="462.7" cy="728.06" r="2.4"/><circle cx="484.05" cy="732.62" r="2.4"/><circle cx="484.05" cy="740.53" r="2.4"/><circle cx="484.05" cy="759.98" r="2.4"/><circle cx="505.4" cy="751.62" r="2.4"/><circle cx="505.4" cy="758.01" r="2.4"/><circle cx="505.4" cy="766.06" r="2.4"/><circle cx="526.75" cy="709.67" r="2.4"/><circle cx="526.75" cy="741.59" r="2.4"/><circle cx="526.75" cy="752.38" r="2.4"/><circle cx="543.1" cy="807.56" r="2.4"/><circle cx="553.1" cy="810.45" r="2.4"/><circle cx="548.1" cy="818.05" r="2.4"/><circle cx="564.45" cy="737.03" r="2.4"/><circle cx="574.45" cy="737.03" r="2.4"/><circle cx="569.45" cy="749.65" r="2.4"/><circle cx="590.8" cy="697.66" r="2.4"/><circle cx="590.8" cy="716.06" r="2.4"/><circle cx="590.8" cy="754.06" r="2.4"/><circle cx="612.15" cy="801.33" r="2.4"/><circle cx="607.15" cy="819.42" r="2.4"/><circle cx="617.15" cy="819.42" r="2.4"/><circle cx="633.5" cy="732.47" r="2.4"/><circle cx="633.5" cy="737.64" r="2.4"/><circle cx="633.5" cy="754.06" r="2.4"/><circle cx="649.85" cy="846.62" r="2.4"/><circle cx="654.85" cy="845.41" r="2.4"/><circle cx="659.85" cy="845.56" r="2.4"/><circle cx="676.2" cy="705.57" r="2.4"/><circle cx="676.2" cy="713.02" r="2.4"/><circle cx="676.2" cy="720.62" r="2.4"/><circle cx="697.55" cy="711.65" r="2.4"/><circle cx="697.55" cy="732.93" r="2.4"/><circle cx="697.55" cy="741.59" r="2.4"/><circle cx="718.9" cy="792.06" r="2.4"/><circle cx="718.9" cy="799.66" r="2.4"/><circle cx="718.9" cy="804.37" r="2.4"/><circle cx="735.25" cy="845.41" r="2.4"/><circle cx="745.75" cy="848.45" r="2.4"/><circle cx="735.25" cy="849.66" r="2.4"/><circle cx="761.6" cy="766.06" r="2.4"/><circle cx="761.6" cy="778.98" r="2.4"/><circle cx="761.6" cy="792.06" r="2.4"/><circle cx="782.95" cy="830.06" r="2.4"/><circle cx="782.95" cy="836.44" r="2.4"/><circle cx="782.95" cy="846.93" r="2.4"/><circle cx="804.3" cy="787.34" r="2.4"/><circle cx="804.3" cy="795.4" r="2.4"/><circle cx="804.3" cy="814.55" r="2.4"/><circle cx="825.65" cy="831.58" r="2.4"/><circle cx="825.65" cy="839.33" r="2.4"/><circle cx="825.65" cy="845.41" r="2.4"/><circle cx="847" cy="738.55" r="2.4"/><circle cx="847" cy="772.6" r="2.4"/><circle cx="847" cy="780.05" r="2.4"/><circle cx="868.35" cy="701.01" r="2.4"/><circle cx="868.35" cy="722.44" r="2.4"/><circle cx="868.35" cy="742.05" r="2.4"/></g>
</g>
<text transform="translate(12.3 755) rotate(-90)" font-size="14.5" text-anchor="middle" fill="#000">Fold change of percentage EGFP+</text>
<text transform="translate(29.9 755) rotate(-90)" font-size="14.5" text-anchor="middle" fill="#000">cells in mCherry+BFP+ cells</text>
<text x="73" y="643.6" font-size="14.5" text-anchor="start" fill="#000">EGFxxFP-Target1</text>
<text x="145" y="670.6" font-size="14.5" text-anchor="start" fill="#000">sgRNA-V3</text>
<text x="397.5" y="657" font-size="14.5" text-anchor="start" fill="#000">sgRNA-V3.1</text>
</g>
<g id="panel-d">
<text x="-0.8" y="1056" font-size="30" text-anchor="start" fill="#000">d</text>
<g id="chart-d">
<rect x="73" y="1363.54" width="15.6" height="7.06" fill="#40ffff" stroke="#222" stroke-width="1"/>
<rect x="96.77" y="1229.4" width="15.6" height="141.2" fill="#40ffff" stroke="#222" stroke-width="1"/>
<rect x="120.54" y="1348.43" width="15.6" height="22.17" fill="#40ffff" stroke="#222" stroke-width="1"/>
<rect x="144.31" y="1357.61" width="15.6" height="12.99" fill="#40ffff" stroke="#222" stroke-width="1"/>
<rect x="168.08" y="1359.45" width="15.6" height="11.15" fill="#40ffff" stroke="#222" stroke-width="1"/>
<rect x="191.85" y="1357.47" width="15.6" height="13.13" fill="#40ffff" stroke="#222" stroke-width="1"/>
<rect x="215.62" y="1341.94" width="15.6" height="28.66" fill="#40ffff" stroke="#222" stroke-width="1"/>
<rect x="239.39" y="1352.95" width="15.6" height="17.65" fill="#40ffff" stroke="#222" stroke-width="1"/>
<rect x="263.16" y="1364.39" width="15.6" height="6.21" fill="#40ffff" stroke="#222" stroke-width="1"/>
<rect x="286.93" y="1276.42" width="15.6" height="94.18" fill="#40ffff" stroke="#222" stroke-width="1"/>
<rect x="310.7" y="1236.46" width="15.6" height="134.14" fill="#40ffff" stroke="#222" stroke-width="1"/>
<rect x="334.47" y="1169.95" width="15.6" height="200.65" fill="#40ffff" stroke="#222" stroke-width="1"/>
<rect x="358.24" y="1220.36" width="15.6" height="150.24" fill="#40ffff" stroke="#222" stroke-width="1"/>
<rect x="382.01" y="1300" width="15.6" height="70.6" fill="#40ffff" stroke="#222" stroke-width="1"/>
<rect x="405.78" y="1360.01" width="15.6" height="10.59" fill="#40ffff" stroke="#222" stroke-width="1"/>
<rect x="429.55" y="1360.01" width="15.6" height="10.59" fill="#40ffff" stroke="#222" stroke-width="1"/>
<rect x="453.32" y="1355.35" width="15.6" height="15.25" fill="#40ffff" stroke="#222" stroke-width="1"/>
<rect x="477.09" y="1359.02" width="15.6" height="11.58" fill="#40ffff" stroke="#222" stroke-width="1"/>
<rect x="500.86" y="1356.48" width="15.6" height="14.12" fill="#40ffff" stroke="#222" stroke-width="1"/>
<rect x="524.63" y="1356.34" width="15.6" height="14.26" fill="#40ffff" stroke="#222" stroke-width="1"/>
<rect x="548.4" y="1269.22" width="15.6" height="101.38" fill="#40ffff" stroke="#222" stroke-width="1"/>
<rect x="572.17" y="1304.52" width="15.6" height="66.08" fill="#40ffff" stroke="#222" stroke-width="1"/>
<rect x="595.94" y="1309.32" width="15.6" height="61.28" fill="#40ffff" stroke="#222" stroke-width="1"/>
<rect x="619.71" y="1129.01" width="15.6" height="241.59" fill="#ff8080" stroke="#222" stroke-width="1"/>
<rect x="643.48" y="1196.08" width="15.6" height="174.52" fill="#40ffff" stroke="#222" stroke-width="1"/>
<rect x="667.25" y="1163.6" width="15.6" height="207" fill="#40ffff" stroke="#222" stroke-width="1"/>
<rect x="691.02" y="1354.36" width="15.6" height="16.24" fill="#40ffff" stroke="#222" stroke-width="1"/>
<rect x="714.79" y="1360.57" width="15.6" height="10.03" fill="#40ffff" stroke="#222" stroke-width="1"/>
<rect x="738.56" y="1327.53" width="15.6" height="43.07" fill="#40ffff" stroke="#222" stroke-width="1"/>
<rect x="762.33" y="1331.35" width="15.6" height="39.25" fill="#40ffff" stroke="#222" stroke-width="1"/>
<g stroke="#000" stroke-width="1">
<path d="M128.34 1348.43V1343.35M123.97 1343.35H132.71" fill="none"/>
<path d="M152.11 1357.61V1352.39M147.74 1352.39H156.48" fill="none"/>
<path d="M175.88 1359.45V1356.62M171.51 1356.62H180.25" fill="none"/>
<path d="M199.65 1357.47V1353.66M195.28 1353.66H204.02" fill="none"/>
<path d="M223.42 1341.94V1339.96M219.05 1339.96H227.79" fill="none"/>
<path d="M247.19 1352.95V1345.04M242.82 1345.04H251.56" fill="none"/>
<path d="M294.73 1276.42V1251.57M290.36 1251.57H299.1" fill="none"/>
<path d="M318.5 1236.46V1204.41M314.13 1204.41H322.87" fill="none"/>
<path d="M342.27 1169.95V1148.35M337.9 1148.35H346.64" fill="none"/>
<path d="M366.04 1220.36V1202.01M361.67 1202.01H370.41" fill="none"/>
<path d="M389.81 1300V1271.05M385.44 1271.05H394.18" fill="none"/>
<path d="M413.58 1360.01V1358.03M409.21 1358.03H417.95" fill="none"/>
<path d="M437.35 1360.01V1357.04M432.98 1357.04H441.72" fill="none"/>
<path d="M461.12 1355.35V1348.57M456.75 1348.57H465.49" fill="none"/>
<path d="M484.89 1359.02V1356.06M480.52 1356.06H489.26" fill="none"/>
<path d="M508.66 1356.48V1348.71M504.29 1348.71H513.03" fill="none"/>
<path d="M532.43 1356.34V1348.86M528.06 1348.86H536.8" fill="none"/>
<path d="M556.2 1269.22V1250.72M551.83 1250.72H560.57" fill="none"/>
<path d="M579.97 1304.52V1285.03M575.6 1285.03H584.34" fill="none"/>
<path d="M603.74 1309.32V1285.03M599.37 1285.03H608.11" fill="none"/>
<path d="M627.51 1129.01V1107.26M623.14 1107.26H631.88" fill="none"/>
<path d="M651.28 1196.08V1180.26M646.91 1180.26H655.65" fill="none"/>
<path d="M675.05 1163.6V1123.5M670.68 1123.5H679.42" fill="none"/>
<path d="M698.82 1354.36V1349.28M694.45 1349.28H703.19" fill="none"/>
<path d="M722.59 1360.57V1356.34M718.22 1356.34H726.96" fill="none"/>
<path d="M746.36 1327.53V1322.03M741.99 1322.03H750.73" fill="none"/>
<path d="M770.13 1331.35V1322.59M765.76 1322.59H774.5" fill="none"/>
</g>
<path d="M65.6 1087.6V1370.6H790" stroke="#222" stroke-width="1.1" fill="none"/>
<g font-size="14.5" text-anchor="end" fill="#000">
<line x1="57.6" y1="1370.6" x2="65.6" y2="1370.6" stroke="#222" stroke-width="1.1"/>
<text x="55.6" y="1376.32">0.0</text>
<line x1="57.6" y1="1300" x2="65.6" y2="1300" stroke="#222" stroke-width="1.1"/>
<text x="55.6" y="1305.72">0.5</text>
<line x1="57.6" y1="1229.4" x2="65.6" y2="1229.4" stroke="#222" stroke-width="1.1"/>
<text x="55.6" y="1235.12">1.0</text>
<line x1="57.6" y1="1158.8" x2="65.6" y2="1158.8" stroke="#222" stroke-width="1.1"/>
<text x="55.6" y="1164.52">1.5</text>
<line x1="57.6" y1="1088.2" x2="65.6" y2="1088.2" stroke="#222" stroke-width="1.1"/>
<text x="55.6" y="1093.92">2.0</text>
</g>
<g font-size="14.5" text-anchor="end" fill="#000">
<line x1="80.8" y1="1370.6" x2="80.8" y2="1378.1" stroke="#222" stroke-width="1.1"/>
<text transform="translate(81.43 1381.47) rotate(-45)" x="0" y="0" dy="0.72em">NT</text>
<line x1="104.57" y1="1370.6" x2="104.57" y2="1378.1" stroke="#222" stroke-width="1.1"/>
<text transform="translate(104.5 1382.17) rotate(-45)" x="0" y="0" dy="0.72em">sgRNA-V1</text>
<line x1="128.34" y1="1370.6" x2="128.34" y2="1378.1" stroke="#222" stroke-width="1.1"/>
<text transform="translate(128.35 1382.09) rotate(-45)" x="0" y="0" dy="0.72em">V1+C59U</text>
<line x1="152.11" y1="1370.6" x2="152.11" y2="1378.1" stroke="#222" stroke-width="1.1"/>
<text transform="translate(152.13 1382.08) rotate(-45)" x="0" y="0" dy="0.72em">V1+C59A</text>
<line x1="175.88" y1="1370.6" x2="175.88" y2="1378.1" stroke="#222" stroke-width="1.1"/>
<text transform="translate(175.77 1382.21) rotate(-45)" x="0" y="0" dy="0.72em">V1+C198U</text>
<line x1="199.65" y1="1370.6" x2="199.65" y2="1378.1" stroke="#222" stroke-width="1.1"/>
<text transform="translate(199.55 1382.2) rotate(-45)" x="0" y="0" dy="0.72em">V1+C198A</text>
<line x1="223.42" y1="1370.6" x2="223.42" y2="1378.1" stroke="#222" stroke-width="1.1"/>
<text transform="translate(223.44 1382.08) rotate(-45)" x="0" y="0" dy="0.72em">V1+U89A</text>
<line x1="247.19" y1="1370.6" x2="247.19" y2="1378.1" stroke="#222" stroke-width="1.1"/>
<text transform="translate(247.09 1382.2) rotate(-45)" x="0" y="0" dy="0.72em">V1+U105A</text>
<line x1="270.96" y1="1370.6" x2="270.96" y2="1378.1" stroke="#222" stroke-width="1.1"/>
<text transform="translate(270.84 1382.22) rotate(-45)" x="0" y="0" dy="0.72em">V1+U105G</text>
<line x1="294.73" y1="1370.6" x2="294.73" y2="1378.1" stroke="#222" stroke-width="1.1"/>
<text transform="translate(294.61 1382.22) rotate(-45)" x="0" y="0" dy="0.72em">V1+G108C</text>
<line x1="318.5" y1="1370.6" x2="318.5" y2="1378.1" stroke="#222" stroke-width="1.1"/>
<text transform="translate(318.38 1382.22) rotate(-45)" x="0" y="0" dy="0.72em">V1+G108U</text>
<line x1="342.27" y1="1370.6" x2="342.27" y2="1378.1" stroke="#222" stroke-width="1.1"/>
<text transform="translate(342.16 1382.21) rotate(-45)" x="0" y="0" dy="0.72em">V1+U109C</text>
<line x1="366.04" y1="1370.6" x2="366.04" y2="1378.1" stroke="#222" stroke-width="1.1"/>
<text transform="translate(365.94 1382.2) rotate(-45)" x="0" y="0" dy="0.72em">V1+U109A</text>
<line x1="389.81" y1="1370.6" x2="389.81" y2="1378.1" stroke="#222" stroke-width="1.1"/>
<text transform="translate(389.69 1382.22) rotate(-45)" x="0" y="0" dy="0.72em">V1+U109G</text>
<line x1="413.58" y1="1370.6" x2="413.58" y2="1378.1" stroke="#222" stroke-width="1.1"/>
<text transform="translate(413.51 1382.17) rotate(-45)" x="0" y="0" dy="0.72em">V1+C111A</text>
<line x1="437.35" y1="1370.6" x2="437.35" y2="1378.1" stroke="#222" stroke-width="1.1"/>
<text transform="translate(437.26 1382.19) rotate(-45)" x="0" y="0" dy="0.72em">V1+C111G</text>
<line x1="461.12" y1="1370.6" x2="461.12" y2="1378.1" stroke="#222" stroke-width="1.1"/>
<text transform="translate(461.04 1382.18) rotate(-45)" x="0" y="0" dy="0.72em">V1+C112A</text>
<line x1="484.89" y1="1370.6" x2="484.89" y2="1378.1" stroke="#222" stroke-width="1.1"/>
<text transform="translate(484.78 1382.21) rotate(-45)" x="0" y="0" dy="0.72em">V1+C112G</text>
<line x1="508.66" y1="1370.6" x2="508.66" y2="1378.1" stroke="#222" stroke-width="1.1"/>
<text transform="translate(508.56 1382.2) rotate(-45)" x="0" y="0" dy="0.72em">V1+C203A</text>
<line x1="532.43" y1="1370.6" x2="532.43" y2="1378.1" stroke="#222" stroke-width="1.1"/>
<text transform="translate(532.31 1382.22) rotate(-45)" x="0" y="0" dy="0.72em">V1+C203G</text>
<line x1="556.2" y1="1370.6" x2="556.2" y2="1378.1" stroke="#222" stroke-width="1.1"/>
<text transform="translate(556.09 1382.21) rotate(-45)" x="0" y="0" dy="0.72em">V1+A204G</text>
<line x1="579.97" y1="1370.6" x2="579.97" y2="1378.1" stroke="#222" stroke-width="1.1"/>
<text transform="translate(579.87 1382.2) rotate(-45)" x="0" y="0" dy="0.72em">V1+A204U</text>
<line x1="603.74" y1="1370.6" x2="603.74" y2="1378.1" stroke="#222" stroke-width="1.1"/>
<text transform="translate(603.64 1382.2) rotate(-45)" x="0" y="0" dy="0.72em">V1+A204C</text>
<line x1="627.51" y1="1370.6" x2="627.51" y2="1378.1" stroke="#222" stroke-width="1.1"/>
<text transform="translate(627.41 1382.2) rotate(-45)" x="0" y="0" dy="0.72em">V1+U205A</text>
<line x1="651.28" y1="1370.6" x2="651.28" y2="1378.1" stroke="#222" stroke-width="1.1"/>
<text transform="translate(651.16 1382.22) rotate(-45)" x="0" y="0" dy="0.72em">V1+U205G</text>
<line x1="675.05" y1="1370.6" x2="675.05" y2="1378.1" stroke="#222" stroke-width="1.1"/>
<text transform="translate(674.19 1382.96) rotate(-45)" x="0" y="0" dy="0.72em">V1+U205A+U109C</text>
<line x1="698.82" y1="1370.6" x2="698.82" y2="1378.1" stroke="#222" stroke-width="1.1"/>
<text transform="translate(698.72 1382.2) rotate(-45)" x="0" y="0" dy="0.72em">V1+C207A</text>
<line x1="722.59" y1="1370.6" x2="722.59" y2="1378.1" stroke="#222" stroke-width="1.1"/>
<text transform="translate(722.49 1382.2) rotate(-45)" x="0" y="0" dy="0.72em">V1+U137A</text>
<line x1="746.36" y1="1370.6" x2="746.36" y2="1378.1" stroke="#222" stroke-width="1.1"/>
<text transform="translate(746.26 1382.2) rotate(-45)" x="0" y="0" dy="0.72em">V1+U149A</text>
<line x1="770.13" y1="1370.6" x2="770.13" y2="1378.1" stroke="#222" stroke-width="1.1"/>
<text transform="translate(770.03 1382.2) rotate(-45)" x="0" y="0" dy="0.72em">V1+U150A</text>
</g>
<line x1="58" y1="1229.4" x2="781" y2="1229.4" stroke="#000" stroke-width="2" stroke-dasharray="14 13.5"/>
<g fill="#000"><circle cx="74.8" cy="1363.96" r="2.4"/><circle cx="80.8" cy="1361" r="2.4"/><circle cx="86.8" cy="1362.98" r="2.4"/><circle cx="98.57" cy="1229.4" r="2.4"/><circle cx="104.57" cy="1229.4" r="2.4"/><circle cx="110.57" cy="1229.4" r="2.4"/><circle cx="128.34" cy="1342.36" r="2.4"/><circle cx="124.34" cy="1350.97" r="2.4"/><circle cx="132.34" cy="1350.97" r="2.4"/><circle cx="152.11" cy="1352.39" r="2.4"/><circle cx="152.11" cy="1356.62" r="2.4"/><circle cx="152.11" cy="1362.55" r="2.4"/><circle cx="171.88" cy="1356.62" r="2.4"/><circle cx="179.88" cy="1358.46" r="2.4"/><circle cx="175.88" cy="1362.55" r="2.4"/><circle cx="199.65" cy="1352.67" r="2.4"/><circle cx="195.65" cy="1359.45" r="2.4"/><circle cx="203.65" cy="1358.46" r="2.4"/><circle cx="219.42" cy="1339.39" r="2.4"/><circle cx="227.42" cy="1340.95" r="2.4"/><circle cx="219.42" cy="1344.05" r="2.4"/><circle cx="247.19" cy="1344.05" r="2.4"/><circle cx="251.19" cy="1355.07" r="2.4"/><circle cx="243.19" cy="1358.46" r="2.4"/><circle cx="264.96" cy="1363.96" r="2.4"/><circle cx="270.96" cy="1362.41" r="2.4"/><circle cx="276.96" cy="1363.96" r="2.4"/><circle cx="294.73" cy="1253.55" r="2.4"/><circle cx="294.73" cy="1273.17" r="2.4"/><circle cx="294.73" cy="1301.55" r="2.4"/><circle cx="318.5" cy="1199.47" r="2.4"/><circle cx="314.5" cy="1254.53" r="2.4"/><circle cx="322.5" cy="1253.55" r="2.4"/><circle cx="342.27" cy="1148.35" r="2.4"/><circle cx="342.27" cy="1169.95" r="2.4"/><circle cx="342.27" cy="1190.99" r="2.4"/><circle cx="366.04" cy="1199.47" r="2.4"/><circle cx="366.04" cy="1227.99" r="2.4"/><circle cx="366.04" cy="1231.94" r="2.4"/><circle cx="385.81" cy="1281.64" r="2.4"/><circle cx="393.81" cy="1284.61" r="2.4"/><circle cx="389.81" cy="1332.62" r="2.4"/><circle cx="409.58" cy="1358.03" r="2.4"/><circle cx="417.58" cy="1358.03" r="2.4"/><circle cx="413.58" cy="1362.55" r="2.4"/><circle cx="437.35" cy="1356.62" r="2.4"/><circle cx="433.35" cy="1362.55" r="2.4"/><circle cx="441.35" cy="1361" r="2.4"/><circle cx="461.12" cy="1348.43" r="2.4"/><circle cx="461.12" cy="1355.35" r="2.4"/><circle cx="461.12" cy="1361.42" r="2.4"/><circle cx="480.89" cy="1356.62" r="2.4"/><circle cx="488.89" cy="1356.62" r="2.4"/><circle cx="484.89" cy="1362.55" r="2.4"/><circle cx="504.66" cy="1350.97" r="2.4"/><circle cx="512.66" cy="1352.81" r="2.4"/><circle cx="508.66" cy="1363.96" r="2.4"/><circle cx="532.43" cy="1348.29" r="2.4"/><circle cx="532.43" cy="1358.32" r="2.4"/><circle cx="532.43" cy="1362.55" r="2.4"/><circle cx="556.2" cy="1251.71" r="2.4"/><circle cx="556.2" cy="1266.25" r="2.4"/><circle cx="556.2" cy="1287.43" r="2.4"/><circle cx="575.97" cy="1291.67" r="2.4"/><circle cx="583.97" cy="1294.21" r="2.4"/><circle cx="579.97" cy="1325.84" r="2.4"/><circle cx="599.74" cy="1294.21" r="2.4"/><circle cx="607.74" cy="1296.19" r="2.4"/><circle cx="603.74" cy="1336.99" r="2.4"/><circle cx="627.51" cy="1104.16" r="2.4"/><circle cx="627.51" cy="1136.77" r="2.4"/><circle cx="627.51" cy="1145.53" r="2.4"/><circle cx="651.28" cy="1179.84" r="2.4"/><circle cx="651.28" cy="1198.05" r="2.4"/><circle cx="651.28" cy="1209.35" r="2.4"/><circle cx="675.05" cy="1119.69" r="2.4"/><circle cx="675.05" cy="1172.36" r="2.4"/><circle cx="675.05" cy="1198.05" r="2.4"/><circle cx="695.82" cy="1351.26" r="2.4"/><circle cx="701.82" cy="1351.26" r="2.4"/><circle cx="698.82" cy="1358.32" r="2.4"/><circle cx="722.59" cy="1355.63" r="2.4"/><circle cx="718.59" cy="1362.55" r="2.4"/><circle cx="726.59" cy="1361.28" r="2.4"/><circle cx="746.36" cy="1321.32" r="2.4"/><circle cx="742.36" cy="1329.51" r="2.4"/><circle cx="750.36" cy="1329.51" r="2.4"/><circle cx="770.13" cy="1321.32" r="2.4"/><circle cx="766.13" cy="1335.58" r="2.4"/><circle cx="774.13" cy="1335.58" r="2.4"/></g>
</g>
<text transform="translate(12.3 1237.3) rotate(-90)" font-size="14.5" text-anchor="middle" fill="#000">Fold change of percentage EGFP+</text>
<text transform="translate(29.9 1237.3) rotate(-90)" font-size="14.5" text-anchor="middle" fill="#000">cells in mCherry+BFP+ cells</text>
<text x="77.5" y="1102" font-size="14.5" text-anchor="start" fill="#000">EGFxxFP-Target1</text>
<text x="624.5" y="1093.7" font-size="14.5" text-anchor="middle" fill="#000">sgRNA-V4</text>
</g>
<g id="panel-e">
<text x="890.1" y="615.4" font-size="30" text-anchor="start" fill="#000">e</text>
<g id="chart-e">
<rect x="960.2" y="879.83" width="17.6" height="4.57" fill="#40ffff" stroke="#222" stroke-width="1"/>
<rect x="986.73" y="780.5" width="17.6" height="103.9" fill="#40ffff" stroke="#222" stroke-width="1"/>
<rect x="1013.26" y="692.7" width="17.6" height="191.7" fill="#40ffff" stroke="#222" stroke-width="1"/>
<rect x="1039.79" y="676.08" width="17.6" height="208.32" fill="#40ffff" stroke="#222" stroke-width="1"/>
<rect x="1066.32" y="691.67" width="17.6" height="192.73" fill="#40ffff" stroke="#222" stroke-width="1"/>
<rect x="1092.85" y="720.24" width="17.6" height="164.16" fill="#40ffff" stroke="#222" stroke-width="1"/>
<rect x="1119.38" y="694.99" width="17.6" height="189.41" fill="#40ffff" stroke="#222" stroke-width="1"/>
<rect x="1145.91" y="705.69" width="17.6" height="178.71" fill="#40ffff" stroke="#222" stroke-width="1"/>
<rect x="1172.44" y="665.69" width="17.6" height="218.71" fill="#ff8080" stroke="#222" stroke-width="1"/>
<g stroke="#000" stroke-width="1">
<path d="M1022.06 692.7V667.56M1017.13 667.56H1026.99" fill="none"/>
<path d="M1048.59 676.08V666.21M1043.66 666.21H1053.52" fill="none"/>
<path d="M1075.12 691.67V667.56M1070.19 667.56H1080.05" fill="none"/>
<path d="M1101.65 720.24V700.5M1096.72 700.5H1106.58" fill="none"/>
<path d="M1128.18 694.99V669.33M1123.25 669.33H1133.11" fill="none"/>
<path d="M1154.71 705.69V678.16M1149.78 678.16H1159.64" fill="none"/>
<path d="M1181.24 665.69V653.74M1176.31 653.74H1186.17" fill="none"/>
</g>
<path d="M951.5 624.05V884.4H1200" stroke="#222" stroke-width="1.1" fill="none"/>
<g font-size="12.9" text-anchor="end" fill="#000">
<line x1="943.5" y1="884.4" x2="951.5" y2="884.4" stroke="#222" stroke-width="1.1"/>
<text transform="translate(942.7 889.54) scale(0.87 1)">0.0</text>
<line x1="943.5" y1="832.45" x2="951.5" y2="832.45" stroke="#222" stroke-width="1.1"/>
<text transform="translate(942.7 837.59) scale(0.87 1)">0.5</text>
<line x1="943.5" y1="780.5" x2="951.5" y2="780.5" stroke="#222" stroke-width="1.1"/>
<text transform="translate(942.7 785.64) scale(0.87 1)">1.0</text>
<line x1="943.5" y1="728.55" x2="951.5" y2="728.55" stroke="#222" stroke-width="1.1"/>
<text transform="translate(942.7 733.69) scale(0.87 1)">1.5</text>
<line x1="943.5" y1="676.6" x2="951.5" y2="676.6" stroke="#222" stroke-width="1.1"/>
<text transform="translate(942.7 681.74) scale(0.87 1)">2.0</text>
<line x1="943.5" y1="624.65" x2="951.5" y2="624.65" stroke="#222" stroke-width="1.1"/>
<text transform="translate(942.7 629.79) scale(0.87 1)">2.5</text>
</g>
<g font-size="15.1" text-anchor="end" fill="#000">
<line x1="969" y1="884.4" x2="969" y2="891.9" stroke="#222" stroke-width="1.1"/>
<text transform="translate(968.5 895.9) rotate(-45)" x="0" y="0" dy="0.72em">NT</text>
<line x1="995.53" y1="884.4" x2="995.53" y2="891.9" stroke="#222" stroke-width="1.1"/>
<text transform="translate(995.03 895.9) rotate(-45)" x="0" y="0" dy="0.72em">sgRNA-V1</text>
<line x1="1022.06" y1="884.4" x2="1022.06" y2="891.9" stroke="#222" stroke-width="1.1"/>
<text transform="translate(1021.56 895.9) rotate(-45)" x="0" y="0" dy="0.72em">sgRNA-V4</text>
<line x1="1048.59" y1="884.4" x2="1048.59" y2="891.9" stroke="#222" stroke-width="1.1"/>
<text transform="translate(1048.09 895.9) rotate(-45)" x="0" y="0" dy="0.72em">sgRNA-V4+V2</text>
<line x1="1075.12" y1="884.4" x2="1075.12" y2="891.9" stroke="#222" stroke-width="1.1"/>
<text transform="translate(1074.62 895.9) rotate(-45)" x="0" y="0" dy="0.72em">sgRNA-V4+V2.1</text>
<line x1="1101.65" y1="884.4" x2="1101.65" y2="891.9" stroke="#222" stroke-width="1.1"/>
<text transform="translate(1101.15 895.9) rotate(-45)" x="0" y="0" dy="0.72em">sgRNA-V4+V2.2</text>
<line x1="1128.18" y1="884.4" x2="1128.18" y2="891.9" stroke="#222" stroke-width="1.1"/>
<text transform="translate(1127.68 895.9) rotate(-45)" x="0" y="0" dy="0.72em">sgRNA-V4+V3</text>
<line x1="1154.71" y1="884.4" x2="1154.71" y2="891.9" stroke="#222" stroke-width="1.1"/>
<text transform="translate(1154.21 895.9) rotate(-45)" x="0" y="0" dy="0.72em">sgRNA-V4+V3.1</text>
<line x1="1181.24" y1="884.4" x2="1181.24" y2="891.9" stroke="#222" stroke-width="1.1"/>
<text transform="translate(1180.74 895.9) rotate(-45)" x="0" y="0" dy="0.72em">sgRNA-V4+V2+V2.2</text>
</g>
<g fill="#000"><circle cx="962" cy="880.24" r="2.4"/><circle cx="969" cy="878.17" r="2.4"/><circle cx="976" cy="879.2" r="2.4"/><circle cx="988.53" cy="780.5" r="2.4"/><circle cx="995.53" cy="780.5" r="2.4"/><circle cx="1002.53" cy="780.5" r="2.4"/><circle cx="1022.06" cy="664.34" r="2.4"/><circle cx="1022.06" cy="702.16" r="2.4"/><circle cx="1022.06" cy="711.51" r="2.4"/><circle cx="1048.59" cy="664.34" r="2.4"/><circle cx="1045.59" cy="682.21" r="2.4"/><circle cx="1051.59" cy="680.34" r="2.4"/><circle cx="1075.12" cy="667.56" r="2.4"/><circle cx="1075.12" cy="689.38" r="2.4"/><circle cx="1075.12" cy="717.64" r="2.4"/><circle cx="1101.65" cy="697.69" r="2.4"/><circle cx="1101.65" cy="728.86" r="2.4"/><circle cx="1101.65" cy="733.33" r="2.4"/><circle cx="1125.18" cy="678.99" r="2.4"/><circle cx="1131.18" cy="681.38" r="2.4"/><circle cx="1128.18" cy="723.46" r="2.4"/><circle cx="1154.71" cy="685.43" r="2.4"/><circle cx="1154.71" cy="694.26" r="2.4"/><circle cx="1154.71" cy="736.24" r="2.4"/><circle cx="1181.24" cy="653.43" r="2.4"/><circle cx="1181.24" cy="666.73" r="2.4"/><circle cx="1181.24" cy="676.08" r="2.4"/></g>
</g>
<text transform="translate(905.5 754.5) rotate(-90)" font-size="14.6" text-anchor="middle" fill="#000" letter-spacing="0.68">Fold change of percentage EGFP+</text>
<text transform="translate(923.5 756.4) rotate(-90)" font-size="14.6" text-anchor="middle" fill="#000" letter-spacing="0.68">cells in mCherry+BFP+ cells</text>
<text x="961.3" y="635.9" font-size="14.5" text-anchor="start" fill="#000">EGFxxFP-Target1</text>
<text x="1120" y="645.2" font-size="15.1" text-anchor="start" fill="#000">sgRNA-V5</text>
</g>
<g id="panel-f">
<text x="849" y="1055.8" font-size="30" text-anchor="start" fill="#000">f</text>
<g id="chart-f">
<rect x="937.9" y="1383.37" width="25" height="3.03" fill="#00ff00" stroke="#222" stroke-width="1"/>
<rect x="975.95" y="1214.6" width="25" height="171.8" fill="#00ff00" stroke="#222" stroke-width="1"/>
<rect x="1014" y="1349.43" width="25" height="36.97" fill="#00ff00" stroke="#222" stroke-width="1"/>
<rect x="1052.05" y="1169.45" width="25" height="216.95" fill="#00ff00" stroke="#222" stroke-width="1"/>
<rect x="1090.1" y="1162.79" width="25" height="223.61" fill="#00ff00" stroke="#222" stroke-width="1"/>
<rect x="1128.15" y="1185.51" width="25" height="200.89" fill="#00ff00" stroke="#222" stroke-width="1"/>
<g stroke="#000" stroke-width="1">
<path d="M988.45 1214.6V1193.09M981.45 1193.09H995.45" fill="none"/>
<path d="M1026.5 1349.43V1346.4M1019.5 1346.4H1033.5" fill="none"/>
<path d="M1064.55 1169.45V1146.12M1057.55 1146.12H1071.55" fill="none"/>
<path d="M1102.6 1162.79V1132.79M1095.6 1132.79H1109.6" fill="none"/>
<path d="M1140.65 1185.51V1154.61M1133.65 1154.61H1147.65" fill="none"/>
</g>
<path d="M925.5 1082.8V1386.4H1167" stroke="#222" stroke-width="1.1" fill="none"/>
<g font-size="13.9" text-anchor="end" fill="#000">
<line x1="917.5" y1="1386.4" x2="925.5" y2="1386.4" stroke="#222" stroke-width="1.1"/>
<text x="915.5" y="1391.9">0</text>
<line x1="917.5" y1="1310.65" x2="925.5" y2="1310.65" stroke="#222" stroke-width="1.1"/>
<text x="915.5" y="1316.15">25</text>
<line x1="917.5" y1="1234.9" x2="925.5" y2="1234.9" stroke="#222" stroke-width="1.1"/>
<text x="915.5" y="1240.4">50</text>
<line x1="917.5" y1="1159.15" x2="925.5" y2="1159.15" stroke="#222" stroke-width="1.1"/>
<text x="915.5" y="1164.65">75</text>
<line x1="917.5" y1="1083.4" x2="925.5" y2="1083.4" stroke="#222" stroke-width="1.1"/>
<text x="915.5" y="1088.9">100</text>
</g>
<g font-size="14.8" text-anchor="end" fill="#000">
<line x1="950.4" y1="1386.4" x2="950.4" y2="1393.9" stroke="#222" stroke-width="1.1"/>
<text transform="translate(949.98 1399.62) rotate(-45)" x="0" y="0" dy="0.72em">NT</text>
<line x1="988.45" y1="1386.4" x2="988.45" y2="1393.9" stroke="#222" stroke-width="1.1"/>
<text transform="translate(986.53 1401.12) rotate(-45)" x="0" y="0" dy="0.72em">enIscB-T5E</text>
<line x1="1026.5" y1="1386.4" x2="1026.5" y2="1393.9" stroke="#222" stroke-width="1.1"/>
<text transform="translate(1021.82 1403.88) rotate(-45)" x="0" y="0" dy="0.72em">WT-DelIscB-T5E+sgRNAV1</text>
<line x1="1064.55" y1="1386.4" x2="1064.55" y2="1393.9" stroke="#222" stroke-width="1.1"/>
<text transform="translate(1059.28 1404.47) rotate(-45)" x="0" y="0" dy="0.72em">DelIscB-V10.1-T5E+sgRNA-V1</text>
<line x1="1102.6" y1="1386.4" x2="1102.6" y2="1393.9" stroke="#222" stroke-width="1.1"/>
<text transform="translate(1097.33 1404.47) rotate(-45)" x="0" y="0" dy="0.72em">DelIscB-V10.1-T5E+sgRNA-V5</text>
<line x1="1140.65" y1="1386.4" x2="1140.65" y2="1393.9" stroke="#222" stroke-width="1.1"/>
<text transform="translate(1136.22 1403.63) rotate(-45)" x="0" y="0" dy="0.72em">DelIscB-V10.1+sgRNA-V5</text>
</g>
<g fill="#000"><circle cx="942.9" cy="1383.37" r="2.4"/><circle cx="950.4" cy="1381.55" r="2.4"/><circle cx="957.9" cy="1383.37" r="2.4"/><circle cx="984.45" cy="1200.96" r="2.4"/><circle cx="992.45" cy="1203.39" r="2.4"/><circle cx="988.45" cy="1238.54" r="2.4"/><circle cx="1022.5" cy="1346.4" r="2.4"/><circle cx="1030" cy="1348.53" r="2.4"/><circle cx="1022.5" cy="1351.56" r="2.4"/><circle cx="1064.55" cy="1144.91" r="2.4"/><circle cx="1064.55" cy="1171.88" r="2.4"/><circle cx="1064.55" cy="1190.97" r="2.4"/><circle cx="1102.6" cy="1131.88" r="2.4"/><circle cx="1102.6" cy="1165.51" r="2.4"/><circle cx="1102.6" cy="1190.97" r="2.4"/><circle cx="1140.65" cy="1151.58" r="2.4"/><circle cx="1140.65" cy="1192.78" r="2.4"/><circle cx="1140.65" cy="1211.57" r="2.4"/></g>
</g>
<text transform="translate(861.7 1243) rotate(-90)" font-size="14.5" text-anchor="middle" fill="#000">Percentage EGFP+ cells</text>
<text transform="translate(880.6 1243) rotate(-90)" font-size="14.5" text-anchor="middle" fill="#000">in mCherry+ BFP+ cells</text>
<text x="939" y="1096.6" font-size="14.5" text-anchor="start" fill="#000">EGFxxFP-Target1</text>
<text transform="translate(1104 1120) rotate(-45)" font-size="14.5" fill="#000">enDelIscB-T5E</text>
<text transform="translate(1140.3 1140.8) rotate(-45)" font-size="14.5" fill="#000">enDelIscB</text>
</g>
</svg></body></html>
